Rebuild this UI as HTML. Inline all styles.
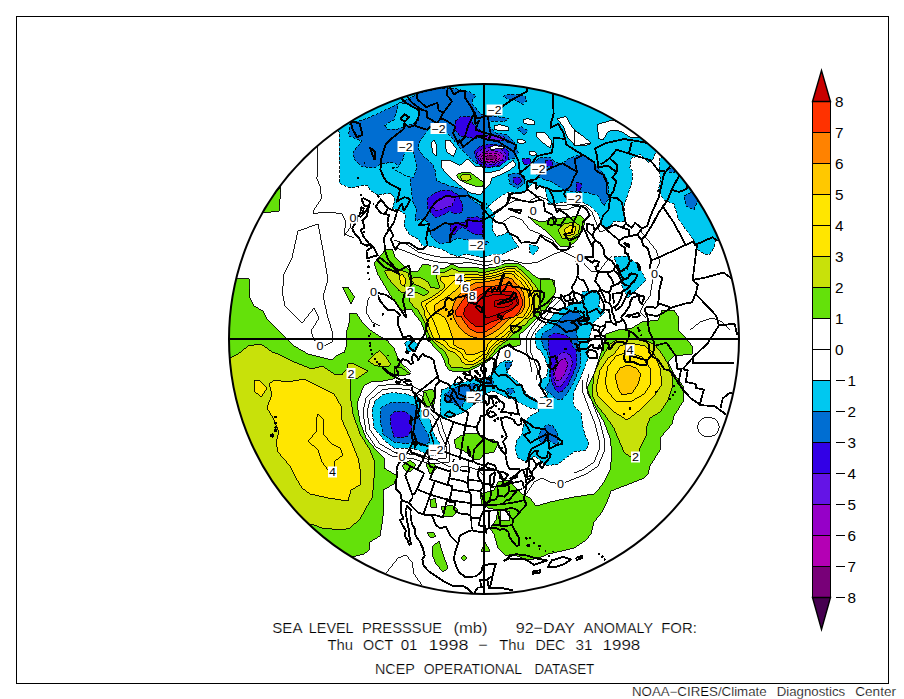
<!DOCTYPE html>
<html lang="en"><head><meta charset="utf-8"><title>SLP anomaly</title>
<style>html,body{margin:0;padding:0;background:#fff}body{width:904px;height:699px;overflow:hidden}</style>
</head><body>
<svg width="904" height="699" viewBox="0 0 904 699" style="display:block">
<defs><clipPath id="cc"><circle cx="484" cy="339" r="255"/></clipPath></defs>
<rect width="904" height="699" fill="#fff"/>
<g clip-path="url(#cc)" shape-rendering="crispEdges">
<path d="M330 125 L339 132 L339 154 L340 170 L339.3 183.3 L350 188 L367 185 L371 191 L378 195 L391 193 L395 199 L392.5 208.6 L399 210 L406 215 L404 226 L410 235 L418 239 L423 246 L431 246 L443 250 L450 254 L458 256.5 L467 254 L476.6 256.5 L483 258 L486 256.5 L494 254 L503 254 L511 250 L518.5 247 L515 242 L511 235 L507 232.5 L502 235 L496.5 236.5 L492.5 230 L492.5 220.6 L495 215 L490 208.6 L487 203 L486.6 208.5 L492 203 L502.5 195 L509 192 L520 194 L526.5 190 L533 183 L538.4 186 L545 188.6 L546.4 195 L548 204 L558 203 L566 202 L582 202 L590 206 L598 214 L602 226 L608 230 L614 221 L624 222 L624 206 L628 194 L632 182 L632 170 L629.8 169 L631 158.5 L640.5 154.5 L648.4 162.5 L652.4 160 L657 150 L680 110 L560 40 L400 40Z" fill="#00c8f0" stroke="#000" stroke-width="0.9" stroke-dasharray="3 1.5"/>
<path d="M557.3 118.6 L566 116.6 L572.6 128 L580.6 134.6 L590 144 L584.6 146 L574 144.5 L567.3 137 L563.3 126.6Z" fill="#ffffff" stroke="#000" stroke-width="0.9"/>
<path d="M597 124.6 L612.5 120 L645 137 L630 137 L622 132 L615 130 L608.5 131 L603 140 L599 138.6Z" fill="#ffffff" stroke="#000" stroke-width="0.9"/>
<path d="M574 130 L584 137 L591 143 L574 146Z" fill="#ffffff" stroke="#000" stroke-width="0.9"/>
<path d="M523 119.5 L528 118.6 L534 121 L535 124 L530 125 L524 123Z" fill="#ffffff" stroke="#000" stroke-width="0.9"/>
<path d="M537 132 L545 133 L552 141 L550.4 148 L542.4 142.5 L536 136Z" fill="#ffffff" stroke="#000" stroke-width="0.9"/>
<path d="M494 126 L500 124.6 L508 127 L509 130 L502 131 L495 129.5Z" fill="#ffffff" stroke="#000" stroke-width="0.9"/>
<path d="M517 139.5 L522 139 L526 142 L522 144 L518 142.5Z" fill="#ffffff" stroke="#000" stroke-width="0.9"/>
<path d="M529 151.5 L534 151 L537 154 L533 156 L529 154Z" fill="#ffffff" stroke="#000" stroke-width="0.9"/>
<path d="M445.3 140 L450.6 141 L456.6 149 L453.3 156.5 L448 153 L445.3 146.5Z" fill="#ffffff" stroke="#000" stroke-width="0.9"/>
<path d="M431 143 L434 140 L437 146 L436 156 L433 153Z" fill="#ffffff" stroke="#000" stroke-width="0.9"/>
<path d="M441 160 L449.3 160 L460 165.3 L468 158.6 L474.6 166 L482.6 166.6 L484 172 L492 172 L500 170 L508 164 L513 160 L516 165 L510 170 L500 175 L492 178 L490 184 L484 190 L480 195 L469.3 192.6 L457.3 183.3 L448 175.3 L441.3 167.3Z" fill="#ffffff" stroke="#000" stroke-width="0.9"/>
<path d="M660 158 L659 169 L660.4 180 L657.8 193 L658 190 L664 200 L674 204 L678 218 L686 230 L694 240 L698 250 L704 254 L710 254 L714 248 L716 240 L760 240 L760 150 L680 150Z" fill="#00c8f0" stroke="#000" stroke-width="0.9" stroke-dasharray="3 1.5"/>
<path d="M684 196 L692 192 L698 200 L694 210 L686 206Z" fill="#006ed2" stroke="#000" stroke-width="0.9" stroke-dasharray="3 1.5"/>
<path d="M668 168 L674 168 L675 172 L669 172Z" fill="#006ed2" stroke="#000" stroke-width="0.9" stroke-dasharray="3 1.5"/>
<path d="M614 257 L626 256 L638 264 L646 280 L636 290 L628 298 L622 286 L618 270Z" fill="#00c8f0" stroke="#000" stroke-width="0.9" stroke-dasharray="3 1.5"/>
<path d="M528.5 244.5 L538 246.5 L538.5 249 L533 255 L530 252.5Z" fill="#00c8f0" stroke="#000" stroke-width="0.9" stroke-dasharray="3 1.5"/>
<path d="M582 292 L592 290 L600 296 L598 308 L588 310 L582 304Z" fill="#00c8f0" stroke="#000" stroke-width="0.9" stroke-dasharray="3 1.5"/>
<path d="M404.5 342 L412 340 L418 344 L414 351 L407 352Z" fill="#00c8f0" stroke="#000" stroke-width="0.9" stroke-dasharray="3 1.5"/>
<path d="M350 122.5 L362 120.5 L380 112.5 L396 105 L420 93 L440 88 L457 89 L470 92 L476 96 L472 100 L473 105 L480 113 L485 117 L493 116 L509 118.6 L505 121 L490 121 L489 126.6 L496 133 L506.5 134.5 L514.5 142.5 L518.5 153 L514.5 158.5 L506 160 L500 166 L486 168 L474 162 L462 150 L452 138 L444 130 L436 124 L428.4 129 L420.5 140 L417.8 148 L423 156 L432.4 164 L435 170 L436.4 180.6 L450 186 L466 190 L470 198 L476.6 203 L482.6 207 L482.6 239 L488.6 242.5 L486 244.5 L482.6 244.5 L470 240.5 L458 238 L450 242 L440.4 244.5 L431 236.5 L429 223 L423 219 L415 220.5 L416.5 210 L412.5 200.6 L410 176.6 L404 170 L392.5 162 L381 164 L374 168 L362 166.5 L354.6 160 L353 152 L362 141 L348.6 136Z" fill="#006ed2" stroke="#000" stroke-width="0.9" stroke-dasharray="3 1.5"/>
<path d="M384.5 125 L394 120 L399 102.6 L410 104 L418 110.6 L418.5 120 L412.5 124 L404.5 126.6 L396.5 129 L387 129Z" fill="#00c8f0" stroke="#000" stroke-width="0.9" stroke-dasharray="3 1.5"/>
<path d="M392 168 L398 167 L403 159 L405 151 L413 151 L417 168 L413 178 L404 175Z" fill="#00c8f0" stroke="#000" stroke-width="0.9" stroke-dasharray="3 1.5"/>
<path d="M502.5 96 L512 94 L525 96 L526.5 101 L522.5 104 L514.5 100 L506.5 98.6Z" fill="#006ed2" stroke="#000" stroke-width="0.9" stroke-dasharray="3 1.5"/>
<path d="M517 129 L521 126.6 L528 130.6 L524 134.5Z" fill="#006ed2" stroke="#000" stroke-width="0.9" stroke-dasharray="3 1.5"/>
<path d="M508 175 L516 173 L525 176 L524 184 L517 188.6 L510 184Z" fill="#006ed2" stroke="#000" stroke-width="0.9" stroke-dasharray="3 1.5"/>
<path d="M513 177 L520 177 L522 182 L517 185 L513 182Z" fill="#3200e6" stroke="#000" stroke-width="0.9" stroke-dasharray="3 1.5"/>
<path d="M540 158 L550 157 L555.3 162.5 L562 164 L568.6 158.5 L580.6 154.5 L590 158.5 L596.5 166.5 L604.5 174.5 L608.5 182.5 L608 200 L604 206 L598 196 L586 192 L576 192 L564 190 L552 182 L540 178 L532 170 L534 162Z" fill="#006ed2" stroke="#000" stroke-width="0.9" stroke-dasharray="3 1.5"/>
<path d="M576 182 L582 184 L580 192 L576 190Z" fill="#3200e6" stroke="#000" stroke-width="0.9" stroke-dasharray="3 1.5"/>
<path d="M522 159 L530 158 L531 164 L524 165Z" fill="#3200e6" stroke="#000" stroke-width="0.9" stroke-dasharray="3 1.5"/>
<path d="M545 160 L552 160 L553 166 L546 166Z" fill="#3200e6" stroke="#000" stroke-width="0.9" stroke-dasharray="3 1.5"/>
<path d="M455.3 121 L461 116.6 L470.6 117 L473 124 L478.6 129 L484 132 L484 137 L474.6 138.5 L466.6 137 L460 136 L454.6 129Z" fill="#3200e6" stroke="#000" stroke-width="0.9" stroke-dasharray="3 1.5"/>
<path d="M427 199 L435 193 L443 190 L452 191 L458 195 L463 204.6 L462 212.6 L454 214 L450 211 L443 215 L435 218 L428 208.6Z" fill="#3200e6" stroke="#000" stroke-width="0.9" stroke-dasharray="3 1.5"/>
<path d="M432.4 206 L439 199 L447 196 L455 198 L452 206 L443 208.6 L436.4 211Z" fill="#6414e6" stroke="#000" stroke-width="0.9" stroke-dasharray="3 1.5"/>
<path d="M467 218 L476.6 216.6 L482.6 219 L482.6 234 L476.6 235 L471 232.5 L463 227 L458 230 L454 235 L450 234 L450 224.6 L456.6 222 L464.6 223Z" fill="#3200e6" stroke="#000" stroke-width="0.9" stroke-dasharray="3 1.5"/>
<path d="M474 151.5 L480 146.5 L490 144 L502 145.5 L509 151.5 L508 159.5 L500 165.5 L488 167.5 L478 163.5Z" fill="#3200e6" stroke="#000" stroke-width="0.9" stroke-dasharray="3 1.5"/>
<path d="M476 153.5 L482 149 L491 147.5 L500 148.5 L506 153.5 L505 159.5 L498 163.5 L488 165 L480 161.5Z" fill="#6414e6" stroke="#000" stroke-width="0.9" stroke-dasharray="3 1.5"/>
<path d="M478.5 155.5 L484 151.5 L492 150.5 L500 152 L503.5 155.5 L502 160 L496 162.5 L487 163 L481 160.5Z" fill="#9600c8" stroke="#000" stroke-width="0.9" stroke-dasharray="3 1.5"/>
<path d="M481 156.5 L486 153.5 L493 153 L499 154.5 L500.5 157.5 L498 160.5 L492 161.5 L485 161Z" fill="#b400b4" stroke="#000" stroke-width="0.9" stroke-dasharray="3 1.5"/>
<path d="M485 156.5 L490 155 L496 156 L497 158.5 L493 160 L487 159.5Z" fill="#780078" stroke="#000" stroke-width="0.9" stroke-dasharray="3 1.5"/>
<path d="M490 146.5 L496 145.5 L503 147 L503.5 149 L497 148.5 L490.5 149.5Z" fill="#ffffff" stroke="#000" stroke-width="0.9"/>
<path d="M485 135.5 L496 135 L504 137 L509 142.5 L504 141 L496 140 L485 139.5Z" fill="#6414e6" stroke="#000" stroke-width="0.9" stroke-dasharray="3 1.5"/>
<path d="M375 401 L383 394.5 L392.5 392.5 L406 394 L418 398 L422 412 L430 420 L434 434 L440 444 L442 454 L430 456 L418 450 L410 448 L394 448 L384 440 L374 428 L372 410Z" fill="#00c8f0" stroke="#000" stroke-width="0.9" stroke-dasharray="3 1.5"/>
<path d="M381 408 L383 406.5 L390 403 L399 402 L406 402 L416 406 L420 420 L428 434 L430 442 L422 446 L414 442 L406 444 L394 442 L383 434 L380 420Z" fill="#006ed2" stroke="#000" stroke-width="0.9" stroke-dasharray="3 1.5"/>
<path d="M390 416 L394 412 L404 411 L411 416 L412 428 L408 436 L400 438 L394 437 L391 426Z" fill="#3200e6" stroke="#000" stroke-width="0.9" stroke-dasharray="3 1.5"/>
<path d="M441 390 L446.6 388.6 L454.6 383 L464 382 L473 379 L482.5 378.6 L485 379 L492 374 L500 363 L505 360.6 L513 360.6 L510.5 367 L506.5 372.6 L513 378 L521 384.6 L526.5 394 L537 400.5 L540 403 L540 410 L530 408 L521 403.6 L516 400.5 L508 398 L500 394 L492 391 L485 394 L482.5 402 L476 403 L469 408.5 L464 412.5 L456 415 L446.6 418 L442.6 419 L440 414 L440 403 L441 395Z" fill="#00c8f0" stroke="#000" stroke-width="0.9" stroke-dasharray="3 1.5"/>
<path d="M444 395 L449 391 L457 387 L465 386 L473 383 L478.5 384.6 L473 390 L466.5 394 L464 400.5 L462.5 406 L458.5 407 L453 403 L446.6 402Z" fill="#006ed2" stroke="#000" stroke-width="0.9" stroke-dasharray="3 1.5"/>
<path d="M505 363 L512 362 L510.5 367 L506.5 371Z" fill="#006ed2" stroke="#000" stroke-width="0.9" stroke-dasharray="3 1.5"/>
<path d="M506.5 388.6 L513 388 L514.5 392.6 L509 394.6Z" fill="#006ed2" stroke="#000" stroke-width="0.9" stroke-dasharray="3 1.5"/>
<path d="M486 380 L492 378 L494 384 L488 387Z" fill="#006ed2" stroke="#000" stroke-width="0.9" stroke-dasharray="3 1.5"/>
<path d="M552 316 L560 310.6 L566.6 306.6 L576 302.6 L584 300 L584.5 297.3 L589 292.6 L597 292 L600 298.6 L598.5 306.6 L605 312 L600 317 L593 322.6 L590.5 333 L589 338.5 L588 345 L588 358 L585 367 L581 376.6 L577 384.6 L574 392.6 L573 403 L576 408.5 L581 412.5 L582.5 424.5 L585 435 L589 443 L586 450 L574 452 L566 458 L558 464 L546 466 L542 462 L534 456 L526 462 L518 458 L515 450 L517 440 L522 434 L524 422 L530 416 L538 412 L538.5 408.5 L540 398 L548 395 L545 390 L538.5 386 L540 380.6 L546.5 376.6 L548 368.6 L545 358 L540 350 L537.3 349 L534.6 340 L536 333 L540 329 L546.6 324Z" fill="#00c8f0" stroke="#000" stroke-width="0.9" stroke-dasharray="3 1.5"/>
<path d="M556 324 L560 318.6 L566.6 313 L573 310.6 L578.5 312 L581 316 L582.5 320 L580 326.6 L576 330.5 L577 336 L578.5 344 L580 350 L581 358 L580 367 L576 376.6 L572 386 L566.5 394 L562.5 399 L556 399 L550.5 394 L545 388.6 L549 383 L549 376.6 L550 367 L549 358 L546.5 350 L544 349 L541.3 340 L542.6 333 L550.6 329Z" fill="#006ed2" stroke="#000" stroke-width="0.9" stroke-dasharray="3 1.5"/>
<path d="M548.6 336 L554.6 333 L564 334.5 L570.5 338.5 L573 346.5 L576 350 L577 358 L576 366 L572.5 375 L568 384.6 L562.5 391 L558.5 392.6 L554.5 388.6 L552 382 L550.5 374 L551 363 L550 355 L549 350 L548 346.5Z" fill="#3200e6" stroke="#000" stroke-width="0.9" stroke-dasharray="3 1.5"/>
<path d="M558.5 354 L564 352 L570.5 355 L572.5 363 L570.5 371 L566.5 379 L561 386 L557 387 L554.5 382 L553 374 L554.5 366 L557 359Z" fill="#6414e6" stroke="#000" stroke-width="0.9" stroke-dasharray="3 1.5"/>
<path d="M560 360.6 L565 358 L568 364.6 L565 372.6 L560 380.6 L556 380.6 L554.5 374 L557 366Z" fill="#9600c8" stroke="#000" stroke-width="0.9" stroke-dasharray="3 1.5"/>
<path d="M541 430 L546.5 424.5 L553 426 L557 432.5 L558.5 443 L554 444 L548 440 L542 444 L538 438Z" fill="#006ed2" stroke="#000" stroke-width="0.9" stroke-dasharray="3 1.5"/>
<path d="M215 278 L249 279 L250 298 L254 306 L263 311 L267 319 L280 332 L286 338 L294 346 L308 354 L320 357 L332 360 L338 354.6 L344.6 352 L346 346.6 L346.6 332 L349 323 L350 313 L357 314 L360.6 320 L368.6 329 L380.5 337 L388.5 342 L394 348 L398 358.6 L404.5 366.6 L411 373 L399 374.5 L395 378.5 L383 381 L371 382 L364.6 385 L362 390 L357 404 L360 422 L366 438 L376 450 L384 458 L384 468 L394 474 L397 476 L394 484 L383 490 L384 508 L382 524 L380 536 L370 542 L369 550 L364 554 L352 557 L340 575 L215 575Z" fill="#64e10a" stroke="#000" stroke-width="0.9"/>
<path d="M262 213 L279 211 L281 186 L270 200Z" fill="#64e10a" stroke="#000" stroke-width="0.9"/>
<path d="M342.6 287 L348 287 L354.6 297 L351 304Z" fill="#64e10a" stroke="#000" stroke-width="0.9"/>
<path d="M215 362 L232 357 L238 354 L248 346 L261 344 L272 352 L278 354 L294 362 L312 369 L322 366 L334 374 L342 374.5 L347 369 L348 364 L352 363 L368 371 L358 378 L351 379 L350 394 L353 414 L360 434 L370 450 L374 460 L374 478 L373 490 L372 498 L366 508 L360 519 L350 528 L342 530 L322 528 L311 524 L295 540 L215 540Z" fill="#c8e10a" stroke="#000" stroke-width="0.9"/>
<path d="M368 361 L374 354.6 L380 350.6 L386 357 L390.5 364 L388.5 366.6 L382 367 L374 365Z" fill="#c8e10a" stroke="#000" stroke-width="0.9"/>
<path d="M269 384 L274 380 L288 382 L304 379 L318 386 L334 394 L341 406 L342 420 L350 438 L358 458 L361 474 L360 485 L351 490 L348 501 L328 498 L310 494 L302 488 L296 478 L290 466 L278 452 L276 442 L279 432 L273 418 L267 408 L272 394Z" fill="#ffe600" stroke="#000" stroke-width="0.9"/>
<path d="M254 380 L260 381 L267 388 L261 397 L254 391Z" fill="#ffe600" stroke="#000" stroke-width="0.9"/>
<path d="M386 249 L392.5 249 L395 257 L402 264 L410 270.6 L415 272 L418 271 L422 265 L428 264.5 L434 267 L440 268 L445 268 L452 264 L458 267 L465 268 L474 267 L483 269 L488 268 L495 267.5 L506 263 L518 263 L525 268 L532 274 L539 279 L547 278 L555 281 L554 287 L549 292 L545 296 L544 302 L543 308 L541 314 L537 318 L531 324 L525 330 L519 335 L521 340 L520 345 L513 347 L510 347 L505 345 L500 349 L495 354 L490 360 L485 363 L482 364 L475 368 L469 371 L461 371 L455 372 L449 370 L446 366 L444 360 L441 354 L435 348 L430 342 L427 338 L425 332 L423 327 L421 322 L416 316 L412 310 L408.5 309 L400.5 310.5 L394 301 L386 288 L378 274.6 L374 263Z" fill="#64e10a" stroke="#000" stroke-width="0.9"/>
<path d="M384.5 270.6 L392.5 270 L400.5 270.6 L408 273 L410 280 L410 286 L407 290.5 L403 293 L399 290.5 L394 285 L388.5 278.6Z" fill="#c8e10a" stroke="#000" stroke-width="0.9"/>
<path d="M399 276 L402.5 274 L406 280 L404.5 286.5 L401 284Z" fill="#ffe600" stroke="#000" stroke-width="0.9"/>
<path d="M410 302 L409 296 L413 292 L418 293 L424 296 L429 292 L423 288 L414 284 L411 279 L415 277 L421 278 L428 282 L431 287.5 L438 288.5 L440 287 L438 282 L436 276 L439 273 L445 272 L452 268.5 L458 271 L465 272 L474 271 L482 273 L488 271.5 L495 270 L507 266.5 L517 267 L523 272 L529 278 L535 285 L539 291 L539.5 298 L539 305 L537 311 L534 316 L529 320 L525 325 L522 326 L517 331 L511 336 L508 340 L503 343 L497 348 L492 354 L487 360 L483 362 L477 365 L470 368 L463 368 L457 367 L452 368 L449 364 L448 358 L445 352 L438 346 L432 340 L429 335 L426.5 329 L425 323 L422 317 L418 310 L415 308Z" fill="#c8e10a" stroke="#000" stroke-width="0.9"/>
<path d="M421.5 305 L422 302 L430 298 L438 293 L445 287 L444 284 L440 280 L441 277 L449 276 L457 275.5 L465 275 L474 274.5 L483 275.5 L495 272.5 L507 268.5 L515 269 L521 274 L527 280 L532 287 L534.5 294 L535 301 L534 308 L532 313 L528 318 L524 319 L519 324 L514 329 L509 334 L505 340 L500 342 L494 347 L489 353 L486 358 L483 358.5 L478 362 L473 364.5 L467 365 L462 362 L460 358 L455 353 L448 350 L443 345 L436 341 L433 337 L430 330 L428 323 L425 316 L424 310Z" fill="#ffe600" stroke="#000" stroke-width="0.9"/>
<path d="M434 309 L435 305 L440 301 L447 297 L452 293 L457 289 L462 283 L467 280.5 L474 279.5 L483 279.5 L495 277.5 L507 273 L514 274.5 L519 280 L524 286 L528 293 L529.5 300 L529 307 L526 313 L522 318 L518 317 L513 322 L508 327 L503 332 L497 336.5 L492 340 L488 344 L486 350 L483 351 L475 354 L469 355 L466 354 L464 350 L459 348 L454 345 L453 340 L452 336 L450 330 L448 324 L445 318 L441 315 L436 313Z" fill="#ffc800" stroke="#000" stroke-width="0.9"/>
<path d="M452 308 L455 301 L457 297 L461 293 L465.5 288 L469 286 L475 283 L483 282.5 L495 280 L507 277.5 L513 279.5 L518 285 L523 292 L525 300 L524.5 307 L522 312 L518 315 L513 316 L508 320 L503 325 L498 329.5 L492 333.5 L486 336.5 L483 338 L477 338 L471 336.5 L465 333 L459 327 L455 320 L452 313Z" fill="#ff8200" stroke="#000" stroke-width="0.9"/>
<path d="M455 312 L458 307 L462 301 L467 295 L471 291 L477 288 L485 286 L495 286 L507 284.5 L514 287 L519 292 L522 299 L522 306 L519 312 L514 317 L508 318 L502 320 L496 325 L490 329 L486 331.5 L483 333 L477 332.5 L470 329 L465 323 L461 316 L457 317Z" fill="#ff3200" stroke="#000" stroke-width="0.9"/>
<path d="M463.5 314 L465 308 L469 303 L475 300 L480 295 L486 291.5 L495 291.5 L505 291 L512 292 L517 296 L519 301 L518 305 L515 306.4 L512 309.8 L505 313.8 L502 318 L495 320.6 L489 323 L485 325 L481 327 L475 326 L469 321 L465 317Z" fill="#c80000" stroke="#000" stroke-width="0.9"/>
<path d="M602 350 L598 362 L594 374 L587 388 L588 394 L596 408 L604 422 L610 438 L612 454 L610 470 L604 482 L598 490 L594 494 L574 497 L564 499 L550 502 L536 506 L530 498 L522 494 L514 486 L508 480 L498 482 L494 490 L480 494 L482 504 L488 508 L498 510 L496 520 L490 528 L494 534 L498 548 L506 556 L512 554 L522 558 L530 560 L544 556 L548 554 L562 551 L574 548 L586 540 L591 534 L594 522 L602 512 L607 502 L611 491 L624 486 L644 478 L648 474 L650 466 L660 450 L660 438 L672 424 L674 416 L684 400 L683 386 L674 374 L668 362 L674 356 L692 354 L692 346 L686 338 L678 330 L679 318 L674 310 L662 310 L658 320 L642 322 L632 328 L618 330 L606 334 L604 342Z" fill="#64e10a" stroke="#000" stroke-width="0.9"/>
<path d="M604 354 L600 360 L594 374 L592 394 L596 404 L604 414 L614 428 L618 438 L624 452 L630 457 L638 456 L640 448 L647 434 L646 428 L650 418 L660 412 L668 400 L672 388 L672 376 L668 364 L662 354 L655 345 L640 338 L620 338 L610 344Z" fill="#c8e10a" stroke="#000" stroke-width="0.9"/>
<path d="M614 354 L608 358 L600 370 L596 388 L598 396 L604 402 L614 412 L627 420 L640 410 L654 396 L662 384 L660 368 L654 354 L645 346 L630 343 L620 346Z" fill="#ffe600" stroke="#000" stroke-width="0.9"/>
<path d="M615 376 L620 368 L628 365 L636 368 L641 374 L638 384 L632 393 L622 395 L618 388Z" fill="#ffc800" stroke="#000" stroke-width="0.9"/>
<path d="M528 216.6 L540 222 L548 220.6 L550 219 L562 218 L572 217 L580 215 L585 220 L583 230 L577 240 L570 246 L560 246 L551 236 L543 228.6 L535 223Z" fill="#64e10a" stroke="#000" stroke-width="0.9"/>
<path d="M558 230 L564 224 L574 222 L580 226 L578 234 L570 239 L562 238Z" fill="#c8e10a" stroke="#000" stroke-width="0.9"/>
<path d="M564 230 L570 225 L576 227 L574 234 L567 236Z" fill="#ffe600" stroke="#000" stroke-width="0.9"/>
<path d="M456.6 174.6 L463.3 172 L470.6 172.6 L478.6 178.6 L484 182.6 L482.6 186 L474.6 186 L465.3 182.6 L458.6 179.3Z" fill="#64e10a" stroke="#000" stroke-width="0.9"/>
<path d="M460 176.6 L464 174 L470 174.6 L471.3 178.6 L466.6 181.3 L462 180Z" fill="#c8e10a" stroke="#000" stroke-width="0.9"/>
<path d="M424 391 L432 389 L436 394 L434 404 L426 408 L422 402Z" fill="#64e10a" stroke="#000" stroke-width="0.9"/>
<path d="M454 440 L460 436 L468 433 L478 434 L482 438 L494 440 L498 444 L494 452 L484 454 L480 459 L474 460 L468 454 L462 450 L456 448Z" fill="#64e10a" stroke="#000" stroke-width="0.9"/>
<path d="M402 466 L410 460 L416 465 L410 472 L406 471Z" fill="#64e10a" stroke="#000" stroke-width="0.9"/>
<path d="M426 464 L434 463 L437 468 L430 474Z" fill="#64e10a" stroke="#000" stroke-width="0.9"/>
<path d="M394 366 L402 368 L410 374 L402 376 L394 374Z" fill="#64e10a" stroke="#000" stroke-width="0.9"/>
<path d="M430 500 L435 498 L437 507 L431 507Z" fill="#64e10a" stroke="#000" stroke-width="0.9"/>
<path d="M441 507 L452 505 L458 510 L452 517 L444 516Z" fill="#64e10a" stroke="#000" stroke-width="0.9"/>
<path d="M427 533 L433 532 L436 536 L431 538Z" fill="#64e10a" stroke="#000" stroke-width="0.9"/>
<path d="M433 546 L439 541 L443 554 L448 568 L443 572 L436 564 L432 554Z" fill="#64e10a" stroke="#000" stroke-width="0.9"/>
<path d="M464 554.6 L467 557.6 L464 560.6 L461 557.6Z" fill="#64e10a" stroke="#000" stroke-width="0.9"/>
<path d="M485 542 L490 551 L481 551.6Z" fill="#64e10a" stroke="#000" stroke-width="0.9"/>
<path d="M500 510 L510 512 L509 521 L501 520Z" fill="#ffffff" stroke="#000" stroke-width="0.9"/>
<path d="M540 280 L552 279 L556 290 L552 300 L546 310 L540 310Z" fill="#64e10a" stroke="#000" stroke-width="0.9"/>
<path d="M318 414 L324 420 L323 434 L332 444 L340 448 L343 455 L335 461 L334 469 L328 470 L322 462 L318 450 L308 441 L316 432 L316 420Z" fill="none" stroke="#000" stroke-width="0.9"/>
<path d="M426.5 303 L432 300 L440 295 L447 288 L453 282 L456 279.5 L465 277.5 L474 277 L483 277.5 L495 275.5 L507 271 L514.5 271.5 L520 277 L525.5 283 L530 290 L532 297 L532 304 L531 310 L527 316 L522 321 L516 325 L511 330 L506 334 L501 338 L496 342 L490 348 L487 354 L483 354 L478 358 L473 361 L468 361 L464 358 L462 354 L457 350 L450 347 L446 342 L440 338 L437 330 L434 322 L431 316 L428 312 L425.5 306Z" fill="none" stroke="#000" stroke-width="0.9"/>
<path d="M605 382 L608 366 L616 356 L628 352 L642 357 L650 368 L651 384 L644 394 L630 402 L616 401 L608 392Z" fill="none" stroke="#000" stroke-width="0.9"/>
<path d="M298 231 L318 224 L323 250 L328 280 L323 296 L328 318 L333 334 L332 342 L324 346 L314 340 L311 331 L319 318 L314 308 L302 323 L285 306 L282.6 294 L283.6 275 L292 258Z" fill="none" stroke="#000" stroke-width="0.9"/>
<path d="M317.4 145 L318 174 L316.6 178 L320 186 L321.6 198 L314 210 L313 214 L318 213 L330 212 L342 214 L346 222 L344 234 L354 238" fill="none" stroke="#000" stroke-width="0.9"/>
<path d="M589 374 L586 386 L593 404 L600 422 L604 438 L604 452 L598 466 L586 474 L574 479 L566 482 L560 484 L550 482 L542 478 L534 482 L530 488 L526 494" fill="none" stroke="#000" stroke-width="0.9"/>
<path d="M583 380 L582 390 L588 406 L595 424 L599 440 L599 450 L594 462 L584 469 L574 473" fill="none" stroke="#000" stroke-width="0.9"/>
<path d="M394 240 L406 244 L418 252 L434 256 L446 258 L460 257 L474 260 L484 262 L498 260 L514 261 L526 264 L538 262 L554 254 L566 250 L574 246" fill="none" stroke="#000" stroke-width="0.9"/>
<path d="M394 247 L410 253 L424 259 L440 262.5 L456 263.5 L470 262.5 L484 265.5 L498 264 L510 259" fill="none" stroke="#000" stroke-width="0.9"/>
<path d="M370 400 L382 390 L394 388 L410 390 L422 396 L428 410 L436 420 L440 434 L446 446 L446 458 L430 460 L416 455 L394 452 L380 444 L370 430 L367 412Z" fill="none" stroke="#000" stroke-width="0.9"/>
<path d="M366 398 L378 386 L394 384 L412 386 L426 393 L432 408 L440 418 L444 432 L450 446 L449 462 L430 464 L414 459 L392 456 L376 447 L366 432 L363 412Z" fill="none" stroke="#000" stroke-width="0.9"/>
<path d="M394 452 L402 456 L412 452 L424 456 L436 460 L448 466 L456 468 L466 466 L478 470 L484 476" fill="none" stroke="#000" stroke-width="0.9"/>
<path d="M386 573 L398 558 L406 555 L412 562 L414 574 L422 585" fill="none" stroke="#000" stroke-width="0.9"/>
<path d="M719.3 427 L717.826 432 L713.8 435.66 L708.3 437 L702.8 435.66 L698.774 432 L697.3 427 L698.774 422 L702.8 418.34 L708.3 417 L713.8 418.34 L717.826 422Z" fill="none" stroke="#000" stroke-width="0.9"/>
<path d="M560 300 L552 308 L546 316 L540 324 L534 332 L530 340 L530 350 L534 360 L538 370 L536 380" fill="none" stroke="#000" stroke-width="0.9"/>
<path d="M556 298 L548 306 L542 314 L536 322 L530 330 L526 338 L526 350 L530 362 L532 372" fill="none" stroke="#000" stroke-width="0.9"/>
<path d="M494 212 L504 206 L516 200 L528 202 L538 196 L548 200 L556 208 L566 210 L576 206" fill="none" stroke="#000" stroke-width="0.9"/>
<path d="M500 224 L512 216 L522 220 L530 230 L540 234 L552 240 L560 250 L572 256 L584 262" fill="none" stroke="#000" stroke-width="0.9"/>
<path d="M548 204 L560 206 L574 204 L586 206 L592 212 L596 222 L600 232 L610 228" fill="none" stroke="#000" stroke-width="0.9"/>
<path d="M580 258 L586 266 L592 272 L600 270 L606 262 L612 256" fill="none" stroke="#000" stroke-width="0.9"/>
<path d="M654 274 L652 284 L650 296 L644 304 L640 312 L646 318" fill="none" stroke="#000" stroke-width="0.9"/>
<path d="M640 230 L648 240 L656 250 L660 262 L654 274" fill="none" stroke="#000" stroke-width="0.9"/>
<path d="M690 330 L700 322 L712 318 L722 322 L730 330" fill="none" stroke="#000" stroke-width="0.9"/>
<path d="M352 217 L350 228 L344 236" fill="none" stroke="#000" stroke-width="0.9"/>
<path d="M373 291 L368 300 L366 312 L372 322 L380 326" fill="none" stroke="#000" stroke-width="0.9"/>
<path d="M485 297 L492 295 L502 294.5 L511 296 L516 299 L517.5 303 L515 307 L509 310 L501 313 L493 316 L486 318 L484 312 L484 303Z" fill="none" stroke="#000" stroke-width="0.9"/>
<path d="M495 301 L503 299 L511 300 L513 303 L509 306 L500 308 L494 306Z" fill="none" stroke="#000" stroke-width="0.9"/>
<path d="M473.7 594.3 L467.4 588.5 L462.4 585.8 L453.6 586.3 L445.5 582.4 L435.8 576.1 L428.3 570.9 L423.4 565.1 L422.4 559.5 L424.7 555.7 L422.6 547.7 L419.2 540.7 L415.5 535.6 L414.8 529 L412 523.7 L411.2 520.1 L410.5 514.8 L410.6 509.4 L407.1 506.2 L405.5 510.5 L406.5 517.3 L407.2 521.8 L408.8 528.9 L409.3 535.5 L409.9 539.2 L411.2 544.5 L409.2 544.6 L408 541.1 L404.6 535.4 L405.8 530.7 L402.9 525.5 L400 519.9 L403.5 518.9 L401.1 512.7 L401.3 508.5 L401 504.1 L401.7 499.8 L400.9 495.2 L400 493.1 L395.7 488.9 L396.1 484.1 L396.3 479.9 L397.1 475.3 L396.5 470.2 L397.9 464.8 L401.2 460.4 L405.5 455 L409.8 449 L412.6 442.1 L415.2 445 L414.7 447.8 L416.6 444.3 L416.8 441.7 L415.5 437.6 L413.3 432.8 L413.6 429.8 L414.4 425.6 L415.1 419.9 L415.7 415.4 L416.3 410.4 L417.5 405.5 L415.9 402.9 L415.3 397.1 L414.8 394 L412 390.3 L412.6 386.3 L410.9 384.2 L408.6 385.2 L406.1 383.4 L403.8 381.8 L407.7 380.6 L410.6 381.4 L408.2 379.6 L404.2 379.3 L401.5 380.1 L397.1 378 L392.8 375.9 L388.4 373.2 L384.8 370.3 L383.1 367.9 L385.5 369.5 L388.7 372.2 L393 374.7 L397.5 375 L398.3 372.8 L396.8 370.7 L396.1 367.6 L398.8 365 L400.1 361.5 L403 359.2 L406.4 360.1 L408.7 361.7 L410.4 364 L413 363 L412.4 360.2 L411.8 357 L414.2 353.8 L417.3 357.5 L417.9 360.5 L419.6 357.8 L422.5 353.8 L425.2 355.9 L429.7 357.2 L434.1 360.5 L434.5 364.2 L435.1 368.4 L436.6 372.2 L437.9 376.4 L438.9 380.3 L442.5 381.9 L446.8 383.3 L449.1 384.5 L450 388.4 L453.3 389.1 L456.2 393.5 L456.9 397.1 L460.8 399.4 L464.5 399.2 L468.3 401.8 L471.8 402 L475 403.1 L477.5 401.3 L479.3 398.2 L479.5 392.9 L480.1 391.4 L482 396.6 L483.5 399.6 L485.6 401.6 L487.2 405.2 L489 402.9 L488.9 398.2 L492 397.2 L492.7 401 L494 405.4 L491.5 407.8 L488.9 408.4 L487.4 410.6 L486.6 414.2 L484 415.2 L480.6 416 L480.1 419.7 L477.7 424.1 L476.6 427.1 L477.3 430.9 L479.5 435.1 L482.3 436.4 L488.2 439.8 L493 441.7 L497.5 441.5 L499 446.8 L501.7 450.6 L504.1 453.1 L506.2 453.1 L505.9 448.8 L504.1 444.3 L502.9 442 L506.9 436.6 L504.8 431.3 L502.8 427.6 L501.9 423.1 L501.1 418.2 L506.3 416.9 L511.5 418.8 L513.7 419.7 L515.4 423.3 L519 425.6 L521.5 423.2 L521.3 418.2 L525.1 420.8 L529.5 423.8 L532.9 427.2 L538.7 428.3 L544.9 429.2 L548 432.9 L546.9 435.9 L543.7 442.5 L537.3 445.9 L531.6 448.6 L529.2 453.8 L528 458.5 L526.4 462.2 L527.7 460.4 L530.2 455.2 L534.9 450.7 L537.8 450.8 L536.7 454.2 L538.7 456.2 L542.2 458.2 L546.9 457.3 L548 452.1 L550.7 454.5 L549.8 457.7 L545.6 462.5 L542.3 468.2 L539.8 465.6 L542 461.7 L537.1 464.2 L535.3 467.9 L531.8 471.8 L531.8 476.1 L534.5 477.7 L532.9 479.4 L529 481.8 L525.8 484.9 L525.9 489.2 L524.7 491.8 L524.7 495.1 L523.8 498.6 L526.5 504.7 L523.9 507.6 L520.8 510.6 L517.3 515.1 L512.9 519.6 L512.3 525.9 L516.1 532.7 L519.3 538.9 L518.9 545.1 L516.4 545.9 L512.4 541.2 L509.3 536.5 L508.4 531.9 L503.9 528.5 L499.7 530 L495.5 527.6 L490.6 528.3 L485.7 528.8 L486.4 532.6 L480.6 532.2 L472.3 530.3 L467.8 531.5 L459.8 535.8 L458.2 543.6 L455.3 551.4 L453.9 558.7 L456.1 566.2 L459.1 572.2 L465.3 577.1 L475.7 576.4 L481.2 572.2 L482.8 565.8 L491.8 563.6 L495.8 563.8 L494.1 569.8 L492.3 576.4 L491.2 583.1 L489.2 588.1 L501.4 588 L513.5 590.5" fill="none" stroke="#000" stroke-width="1.9" stroke-linejoin="round"/>
<path d="M503.8 561.1 L510.6 555.8 L516.2 554.2 L526.1 555.4 L534.5 557.9 L546.7 560.5 L534.1 565 L530.3 562.3 L524.9 559.5 L516.9 559.1 L509 558.5 L503.8 561.1" fill="none" stroke="#000" stroke-width="1.9" stroke-linejoin="round"/>
<path d="M551.7 560.4 L563.3 556.9 L571.3 559.5 L563.7 564.2 L553.8 567.4 L547.8 567.4 L551.7 560.4" fill="none" stroke="#000" stroke-width="1.9" stroke-linejoin="round"/>
<path d="M532.2 571.6 L540.4 570.2 L540.1 572.6 L533 573.7 L532.2 571.6" fill="none" stroke="#000" stroke-width="1.9" stroke-linejoin="round"/>
<path d="M576.1 558 L581.9 555.9 L581.9 557.9 L576.9 560 L576.1 558" fill="none" stroke="#000" stroke-width="1.9" stroke-linejoin="round"/>
<path d="M549.1 433.7 L556.4 436.9 L561.8 441.1 L561.9 444.3 L556.7 444.8 L549.5 448.9 L548.5 442.2 L547.6 437 L549.1 433.7" fill="none" stroke="#000" stroke-width="1.9" stroke-linejoin="round"/>
<path d="M414.8 443.5 L412.2 438.1 L411.2 431.2 L414 434.6 L415.6 440.5 L414.8 443.5" fill="none" stroke="#000" stroke-width="1.9" stroke-linejoin="round"/>
<path d="M409.5 424.4 L411.1 417.2 L412.7 419.1 L409.5 424.4" fill="none" stroke="#000" stroke-width="1.9" stroke-linejoin="round"/>
<path d="M395.8 381.1 L399.7 382 L398.9 383.9 L396 382.3 L395.8 381.1" fill="none" stroke="#000" stroke-width="1.9" stroke-linejoin="round"/>
<path d="M499.7 349.2 L504.1 347.1 L509.4 344.4 L514.1 349.1 L520.8 352 L526.2 354.4 L529.6 357.9 L536.6 360.2 L538.5 363.3 L540.4 367.7 L538.7 372.5 L541.1 379.7 L540 386 L543.3 391.5 L546.6 397 L548 400.4 L541.5 402.9 L535.7 401 L530 397.8 L524.6 394.3 L522.6 388.4 L521.4 385.1 L516.9 385.2 L513.6 382.1 L510.4 378.9 L505.9 374.8 L502.1 374.6 L498.6 376.2 L495.8 373.2 L494 370.7 L496.3 366.7 L495.8 362.1 L496.9 357.4 L498.3 353.3 L499.7 349.2" fill="none" stroke="#000" stroke-width="1.9" stroke-linejoin="round"/>
<path d="M547.7 365.4 L550.9 364.7 L550 357.9 L555.1 356.2 L557.7 363.7 L554.7 368.3 L550.8 368.8 L547.7 365.4" fill="none" stroke="#000" stroke-width="1.9" stroke-linejoin="round"/>
<path d="M492.2 385.5 L495.7 386 L498.4 389.2 L505.2 391.6 L508.5 396.7 L515.5 398.3 L516.6 404.5 L517.7 409.7 L517.5 414.2 L510.1 412.8 L500.8 411.8 L503.7 407.9 L503.6 403.2 L499.3 400.4 L496.1 395.9 L489 396.4 L484.9 392.7 L485.6 386.2 L492.2 385.5" fill="none" stroke="#000" stroke-width="1.9" stroke-linejoin="round"/>
<path d="M484.7 378.1 L490.9 378 L492.6 371.1 L493.9 366.1 L494.8 359.4 L490.9 358 L485.9 360.5 L483.1 365 L486.1 369.2 L485.2 373.7 L484.7 378.1" fill="none" stroke="#000" stroke-width="1.9" stroke-linejoin="round"/>
<path d="M491.3 380.3 L491 383.1 L483.2 383.6 L480.5 379.4 L484 377.8 L491.3 380.3" fill="none" stroke="#000" stroke-width="1.9" stroke-linejoin="round"/>
<path d="M458.8 386.5 L458.5 393.6 L468 398.7 L472.8 396.7 L471 391.1 L469.6 386.2 L463.7 384.6 L458.8 386.5" fill="none" stroke="#000" stroke-width="1.9" stroke-linejoin="round"/>
<path d="M458.6 376.7 L454.9 380.6 L454.4 384.6 L458.3 384.5 L462.9 380.3 L458.6 376.7" fill="none" stroke="#000" stroke-width="1.9" stroke-linejoin="round"/>
<path d="M466 374.3 L465 378 L470.4 380.9 L472.8 377.9 L470.8 375.2 L466 374.3" fill="none" stroke="#000" stroke-width="1.9" stroke-linejoin="round"/>
<path d="M480 385.2 L478.7 389.5 L480.4 391.1 L483.6 388.3 L482.8 385.4 L480 385.2" fill="none" stroke="#000" stroke-width="1.9" stroke-linejoin="round"/>
<path d="M475 385.1 L473.1 390.1 L475.6 392.1 L478 389.4 L477.5 385.5 L475 385.1" fill="none" stroke="#000" stroke-width="1.9" stroke-linejoin="round"/>
<path d="M475.3 397.1 L473.8 399.9 L476.9 401.2 L478.2 399 L475.3 397.1" fill="none" stroke="#000" stroke-width="1.9" stroke-linejoin="round"/>
<path d="M489.7 411.3 L488 415.1 L490.2 417.4 L496.1 415.1 L493.6 412.1 L489.7 411.3" fill="none" stroke="#000" stroke-width="1.9" stroke-linejoin="round"/>
<path d="M482.2 364.9 L480.8 369.2 L482.8 372.8 L485.3 369.9 L484.5 366.4 L482.2 364.9" fill="none" stroke="#000" stroke-width="1.9" stroke-linejoin="round"/>
<path d="M479.2 469.6 L485.1 466.3 L487.9 463 L495.1 465.5 L496.6 470.1 L489.7 470.2 L479.2 469.6" fill="none" stroke="#000" stroke-width="1.9" stroke-linejoin="round"/>
<path d="M495.6 471.8 L490 475.6 L489.5 482.4 L490.7 486.8 L493.6 482.9 L494.5 476 L495.6 471.8" fill="none" stroke="#000" stroke-width="1.9" stroke-linejoin="round"/>
<path d="M497.9 471.6 L504 472.5 L508 474.9 L504.4 480.3 L500.3 478.1 L499.6 473.8 L497.9 471.6" fill="none" stroke="#000" stroke-width="1.9" stroke-linejoin="round"/>
<path d="M501 486 L511.5 480.5 L509.9 482.9 L504.7 486.2 L501 486" fill="none" stroke="#000" stroke-width="1.9" stroke-linejoin="round"/>
<path d="M509.5 479.2 L516.5 474.5 L517.6 476.7 L512.5 478.9 L509.5 479.2" fill="none" stroke="#000" stroke-width="1.9" stroke-linejoin="round"/>
<path d="M467.5 445.6 L469.6 451.7 L470 456.6 L468 453.1 L467.5 445.6" fill="none" stroke="#000" stroke-width="1.9" stroke-linejoin="round"/>
<path d="M448.9 411 L444.6 414.7 L450 417.3 L455.5 415.2 L448.9 411" fill="none" stroke="#000" stroke-width="1.9" stroke-linejoin="round"/>
<path d="M445.6 394.8 L445.2 399.9 L448 402.7 L451.5 400.1 L449.9 396.8 L445.6 394.8" fill="none" stroke="#000" stroke-width="1.9" stroke-linejoin="round"/>
<path d="M725.8 414.3 L714.2 405.9 L700.9 405.3 L690.8 398.3 L683.6 390.6 L677.6 381.9 L670.3 370.8 L664.4 369.2 L658.2 359.8 L652 356.4 L654.5 347.9 L653.9 342 L649 330.4 L647.4 316.6 L645.1 311.2 L645.5 307.6 L650.8 306.6 L655.6 308.1 L658.1 305.2 L658.8 298 L659.1 291.4 L662.3 277.6 L651.4 273.1 L650 266.8 L651.2 260.3 L647.6 248.3 L643.2 245.2 L641.2 239.6 L637.5 234.7 L630.6 236 L624.6 237.2 L619.4 240.6 L619.4 244.2 L624.7 247.6 L624.9 252.7 L627.9 254.2 L629.9 261.4 L628.6 264.4 L626.4 268 L623.2 269.3 L622.1 271.1 L619.2 270.1 L617.4 265.1 L615.5 266.1 L611.6 260.8 L606.5 257.9 L604.4 254.7 L603.6 248.9 L600 243.3 L595.3 240.5 L593.1 243.2 L593.2 248 L593 253.8 L592.9 257.5 L588.3 257 L584.2 257.3 L588.6 260.2 L592.7 262.9 L594.5 260.2 L598.7 261.6 L598.2 265.7 L595.3 266.7 L596.9 271.2 L601.9 271.8 L610.1 272 L613.7 270 L615.5 266.1 L619.8 272.8 L623.7 279.7 L627.9 277.9 L631.4 273.4 L637.4 274.8 L634.7 280.5 L631.4 283.9 L627.5 288.5 L622.9 291.2 L620.3 299.9 L616.6 305.9 L614.5 307.2 L616.2 310.2 L621.5 306 L625.4 297.9 L628.4 292.1 L630 290.4 L629.5 294.5 L634.4 292.5 L638.9 295.2 L632.3 297.9 L630.4 301.7 L629.9 305.3 L625.1 312.9 L621 317.5 L623.9 320.8 L626.2 325.6 L625.8 329.6 L629 331.1 L633.2 333.3 L639.6 339.8 L646.4 341.3 L649.5 345.4 L649.1 351.7 L651.3 355.4 L647.1 360.5 L646.5 364.7 L640.3 365.2 L632.7 361.7 L625.6 361.9 L623.8 358.1 L625.8 348.9 L626.1 343.5 L622 341.9 L617.3 341.8 L612.9 344.6 L611 348.5 L608.9 349.3 L608.3 343.3 L608.3 342.5 L605 343 L606.1 338.6 L603.4 335.7 L600.8 335.3 L599.3 331.9 L595.7 330 L594 330 L592.3 325.7 L590.3 322.7 L585.4 324.4 L580.7 324.6 L577.9 321.4 L581.7 321.2 L585 321.6 L587.1 320.8 L589.3 318.5 L587.2 315.2 L586.5 309.6 L583.4 306.1 L583.9 303.6 L581.8 302.5 L578.2 302.8 L573.4 303.4 L573.3 299.2 L569.1 300.6 L566.1 301.6 L563.4 296.8 L560.6 294.8 L561.4 299.6 L565.4 304.5 L564.1 307.8 L557.7 310 L550.1 307.7 L548.6 310.2 L550.4 312.2 L557.2 313.1 L562.5 314.3 L567 313.2 L569.9 310.3 L573.1 312.1 L580.4 311.4 L583.6 313.8 L584.1 315.9 L582.5 317 L577.5 319.5 L573.8 321.5 L571.2 322.5 L574.2 323.4 L577.9 327.1 L575.4 330 L570.8 331.1 L566 331.8 L560.9 327.5 L557.3 324.8 L552.4 323.5 L548.1 322.4 L545.1 322.6 L539.9 319.8 L536.2 316.8 L533.5 315.1 L534.1 311.8 L533.9 309.6 L533.8 306.7 L533.3 303.8 L533.1 297.8 L535.1 294.6 L537.3 294.3 L540.2 299.6 L540.6 302.9 L544.1 297.2 L544 293 L540.3 290.9 L534.9 290.7 L529.4 295.9 L530.6 290.7 L521.2 287.8 L516.7 286.6 L512.6 287.3 L509.5 281.8 L507.5 283.5 L505.6 288.2 L500.9 292.7 L499.7 287.6 L502.3 280 L504.6 273.5 L502.1 275.9 L500.9 280.2 L499.2 285.9 L496.9 290.8 L494.9 287.9 L491.9 291.8 L491.3 287.2 L486.5 291.5 L484 296.4 L480.5 298.9 L475.4 304.5 L468.2 301.7 L467.8 294.6 L461.5 296.8 L457.1 297.6 L452.8 300.4 L447.8 297.3 L444.7 302.3 L444.8 306.7 L436.7 311.7 L434.5 313.2 L427.9 319.7 L426.1 328.8 L426.5 329.9 L422.9 336.9 L419.9 341.2 L417.3 346.6 L414.9 351.2 L410 348.7 L409 345.6 L413.9 340.2 L410 335.8 L403.3 337.6 L398 324.6 L397.6 317.5 L400.5 315.1 L394 309.8 L387.4 309.8 L383.8 305.5 L380.2 301.2 L376.7 292.8 L386.3 294.9 L394.2 300.3 L399.5 308.2 L404.5 315.5 L405.9 317.3 L405.2 310.3 L402.9 300 L404.7 293.2 L409.3 287.7 L411.7 284.5 L410.2 272.5 L409.1 265.4 L399.4 270.5 L395.3 268 L387.8 259.1 L384.9 249.8 L384.1 237.4 L387.5 231.9 L388.9 228.4 L387.5 222.8 L388.8 215 L380.9 213.1 L375.7 206.6 L381 199.3 L385.9 206 L388.3 208.3 L393.3 210.4 L396.9 211.3 L400.6 205.5 L402 204.2 L403.8 210.6 L407.1 205.7 L410.1 200 L407.2 197.6 L403.9 197.4 L396.6 201.7 L399.2 193.8 L399.9 189.2 L392.3 185.1 L386.6 181.9 L384 177.7 L380.4 169.9 L381.5 157.8 L385.9 143.9 L393.3 137.1 L403.5 129.2 L404.3 123.5 L409 127.2 L414.6 125.3 L418.4 117.4 L419.3 110.4 L405.9 102.9 L400.8 97.4" fill="none" stroke="#000" stroke-width="1.9" stroke-linejoin="round"/>
<path d="M641.2 239.6 L644.7 236.6 L651.7 225.9 L658 213.9 L668.1 199.3 L671.6 189.7 L679.7 174.8" fill="none" stroke="#000" stroke-width="1.9" stroke-linejoin="round"/>
<path d="M641.6 228.6 L647 226.1 L651.9 212.5 L658.6 197.6 L664 174 L671.2 165.1" fill="none" stroke="#000" stroke-width="1.9" stroke-linejoin="round"/>
<path d="M648.2 143.3 L638.5 141.3 L624.1 139 L606.4 143 L594.9 148.4 L596.8 154.9 L598.4 167.4 L607.7 165.5 L616.6 172.2 L612.4 177.6 L616.5 181 L613.3 191.3 L610.2 196.3 L606.5 193 L606.6 182.1 L603.3 174.8 L595.6 170.4 L594.3 162.4 L585.3 156.2 L575.8 150.8 L566.5 144.7 L565 138.4 L563.3 132.4 L558.1 123.8 L550.6 127.9 L551.1 122.3 L553.6 114.1 L553.1 93" fill="none" stroke="#000" stroke-width="1.9" stroke-linejoin="round"/>
<path d="M527.5 87.2 L526.7 91.7 L513.5 98.8 L502.3 106.5 L493.8 114.5 L484 116.4 L477.1 118.6 L471.9 108.2 L465 97.8 L465.4 91 L460.1 90.6 L454 94.4 L449.3 85.9" fill="none" stroke="#000" stroke-width="1.9" stroke-linejoin="round"/>
<path d="M569.3 240.9 L564.1 234.5 L572 232.2 L573.4 222.4 L576.6 216.1 L580.7 205.9 L586 208.5 L589.7 215.3 L582.6 222.3 L582.3 229.8 L579 236.1 L572.3 239.1 L569.3 240.9" fill="none" stroke="#000" stroke-width="1.9" stroke-linejoin="round"/>
<path d="M547.5 224.4 L549.2 218.9 L554.5 216.8 L556.3 221 L552.7 224.7 L547.5 224.4" fill="none" stroke="#000" stroke-width="1.9" stroke-linejoin="round"/>
<path d="M450 243 L449.5 235.8 L456.1 227.2 L453.6 229.5 L450.7 236.4 L450 243" fill="none" stroke="#000" stroke-width="1.9" stroke-linejoin="round"/>
<path d="M520 213.4 L509.2 209.1 L520.9 210.2 L520 213.4" fill="none" stroke="#000" stroke-width="1.9" stroke-linejoin="round"/>
<path d="M516.2 293 L515.8 297.5 L510.6 301 L503 303.2 L498.1 304.1 L502.4 301.3 L510.9 297.6 L513.7 292.4 L516.2 293" fill="none" stroke="#000" stroke-width="1.9" stroke-linejoin="round"/>
<path d="M512.8 332.9 L511.1 329.1 L511.3 325.7 L516.2 326 L521.1 327.7 L517.8 331.2 L512.8 332.9" fill="none" stroke="#000" stroke-width="1.9" stroke-linejoin="round"/>
<path d="M501.8 319.3 L497.8 317 L498.1 314.5 L501.8 316.2 L501.8 319.3" fill="none" stroke="#000" stroke-width="1.9" stroke-linejoin="round"/>
<path d="M481.7 313.1 L479 310.6 L475.4 306.9 L478.1 305.4 L482.4 308.7 L481.7 313.1" fill="none" stroke="#000" stroke-width="1.9" stroke-linejoin="round"/>
<path d="M453.9 311.9 L449.2 315.5 L448.8 312.5 L451.7 309.9 L453.9 311.9" fill="none" stroke="#000" stroke-width="1.9" stroke-linejoin="round"/>
<path d="M430.3 337.6 L429.4 341.4 L428.2 340 L428.8 338 L430.3 337.6" fill="none" stroke="#000" stroke-width="1.9" stroke-linejoin="round"/>
<path d="M399.7 274.3 L393 270.9 L383.8 267 L376.8 259.7 L380.3 257.9 L386.8 263 L394.8 268.6 L399.7 274.3" fill="none" stroke="#000" stroke-width="1.9" stroke-linejoin="round"/>
<path d="M369.8 243.8 L374.2 248.2 L377.6 255.3 L371.2 257.1 L366.5 258.5 L367.3 254.9 L366.4 251 L371.2 247.6 L369.8 243.8" fill="none" stroke="#000" stroke-width="1.9" stroke-linejoin="round"/>
<path d="M368.9 206.6 L367 215.7 L362.4 220.8 L364.5 227.5 L360.8 230 L363 235.6 L366.1 240.1 L369.1 243.6 L367.6 246 L361.4 243.2 L359.4 238.8 L353.9 232.5 L352.4 228.6 L353.9 225.1 L357.3 220.8 L356.9 215.4 L360.8 216.7 L365.3 211.8 L368.9 206.6" fill="none" stroke="#000" stroke-width="1.9" stroke-linejoin="round"/>
<path d="M363 197.8 L370.3 202 L368.6 206.3 L364.3 205.6 L361.8 199.9 L363 197.8" fill="none" stroke="#000" stroke-width="1.9" stroke-linejoin="round"/>
<path d="M363.7 207.7 L363.1 212.9 L360.1 213.8 L361.3 207.4 L363.7 207.7" fill="none" stroke="#000" stroke-width="1.9" stroke-linejoin="round"/>
<path d="M374.6 160.4 L370 147.8 L375.5 151.8 L374.6 160.4" fill="none" stroke="#000" stroke-width="1.9" stroke-linejoin="round"/>
<path d="M405 121.9 L408.8 116.9 L404.4 114.2 L400.4 119 L405 121.9" fill="none" stroke="#000" stroke-width="1.9" stroke-linejoin="round"/>
<path d="M362.4 134.9 L356.9 137.2 L352.2 128.1 L350.5 121.1 L359.7 123.6 L362.4 134.9" fill="none" stroke="#000" stroke-width="1.9" stroke-linejoin="round"/>
<path d="M603.6 350.5 L601.8 341.1 L600.2 336.2 L595 335.7 L594.4 338.4 L589.6 340.5 L585.5 342.5 L579.8 342 L579.3 345.7 L576.6 344.2 L576.7 347.1 L581.2 349.2 L586 348.8 L588.3 348.1 L591.1 344.6 L593.3 345.3 L593.4 347.6 L597.2 348.3 L598.5 349 L599.4 345 L600.5 347.8 L603.6 350.5" fill="none" stroke="#000" stroke-width="1.9" stroke-linejoin="round"/>
<path d="M586.3 352.1 L590.1 349.4 L596.3 351.6 L597.6 358.4 L591.8 358 L588.7 357.5 L586.3 352.1" fill="none" stroke="#000" stroke-width="1.9" stroke-linejoin="round"/>
<path d="M638.3 295.9 L642.8 295.9 L644.3 297.5 L641.8 304 L639.9 302.1 L638.3 295.9" fill="none" stroke="#000" stroke-width="1.9" stroke-linejoin="round"/>
<path d="M631.7 314.8 L638.5 312.9 L639.7 316 L633.5 317.5 L631.7 314.8" fill="none" stroke="#000" stroke-width="1.9" stroke-linejoin="round"/>
<path d="M625.6 315.6 L631.1 315.2 L629.3 317 L625.6 315.6" fill="none" stroke="#000" stroke-width="1.9" stroke-linejoin="round"/>
<path d="M639.4 271.1 L637.3 263.2 L640.3 266.8 L639.4 271.1" fill="none" stroke="#000" stroke-width="1.9" stroke-linejoin="round"/>
<path d="M623.8 242.9 L629.3 244.6 L628.9 247.4 L623.8 242.9" fill="none" stroke="#000" stroke-width="1.9" stroke-linejoin="round"/>
<path d="M416.4 442.2 L472.8 461.9 L473.1 460.6 L476.4 463.5 L485.1 465.7 L487.4 467.9 L496.6 470.1 L499.2 472.1 L503.2 479.1 L503 483 L501.9 484.8 L511.7 481.5 L511.2 478.8 L516.3 476.7 L517 474.4 L519.8 470.9 L527.4 468.6 L528.6 467.1 L529.7 459.3 L531.7 458.9 L533.1 459.4 L536.3 464.6" fill="none" stroke="#000" stroke-width="1.8" stroke-linejoin="round"/>
<path d="M437.9 376.4 L416 394.1 L418.4 399.2 L416.3 401 L420.3 401.6 L419.9 406.5 L418.2 413.4 L418.9 416.5 L415.7 418.7" fill="none" stroke="#000" stroke-width="1.8" stroke-linejoin="round"/>
<path d="M401.5 500.2 L408.7 502.8 L417.5 512.2 L426 515.3 L431.8 515.1 L435.9 524.9 L440.3 528.4 L445.9 526.5 L450.9 536.5 L458.2 543.6" fill="none" stroke="#000" stroke-width="1.8" stroke-linejoin="round"/>
<path d="M474.2 593.9 L477.5 587.6 L481.8 587.2 L479.8 579.6 L487.4 579.6 L491 576.5" fill="none" stroke="#000" stroke-width="1.8" stroke-linejoin="round"/>
<path d="M487.4 579.6 L488.8 588.1" fill="none" stroke="#000" stroke-width="1.8" stroke-linejoin="round"/>
<path d="M433.6 451.6 L433.5 442.6 L430.1 432.4 L439.8 415.6" fill="none" stroke="#000" stroke-width="1.8" stroke-linejoin="round"/>
<path d="M441.8 454.9 L453.8 422.1" fill="none" stroke="#000" stroke-width="1.8" stroke-linejoin="round"/>
<path d="M459.6 459.9 L463.1 438.3 L465.6 425.5" fill="none" stroke="#000" stroke-width="1.8" stroke-linejoin="round"/>
<path d="M472.8 461.9 L473.9 449.6 L485.7 437" fill="none" stroke="#000" stroke-width="1.8" stroke-linejoin="round"/>
<path d="M520.1 469.1 L509.2 468.9 L507.4 465.2 L505 452.3" fill="none" stroke="#000" stroke-width="1.8" stroke-linejoin="round"/>
<path d="M521.3 418.2 L524.8 422.7 L530.3 432.2 L524.2 435 L530.2 442.8 L545.7 434.4 L546.8 436" fill="none" stroke="#000" stroke-width="1.8" stroke-linejoin="round"/>
<path d="M415.3 394.6 L420.4 400.4 L426 405.7 L432 410.5 L438.5 414.8 L445.2 418.5 L452.3 421.6 L459.6 424 L467.1 425.8 L474.8 426.9 L476.6 427.1" fill="none" stroke="#000" stroke-width="1.8" stroke-linejoin="round"/>
<path d="M434.6 412.3 L432.2 402.9 L435 397.4 L435.3 389.5 L435.5 385.5 L439.6 381.1" fill="none" stroke="#000" stroke-width="1.8" stroke-linejoin="round"/>
<path d="M465.6 425.5 L468.3 412.9 L460.2 408.2 L450.9 394.7 L453.5 390.3" fill="none" stroke="#000" stroke-width="1.8" stroke-linejoin="round"/>
<path d="M410 449.1 L411.6 452.6 L418.6 455.6 L423.5 457.8" fill="none" stroke="#000" stroke-width="1.8" stroke-linejoin="round"/>
<path d="M401.2 460.4 L405.6 463.3 L410.1 466 L414.7 468.5 L419.4 470.9 L424.1 473.2" fill="none" stroke="#000" stroke-width="1.8" stroke-linejoin="round"/>
<path d="M429.8 449.8 L427.9 453.7 L429.1 456.8 L428.4 461.6 L429.9 466.4 L434.3 468.1 L431.2 476.1" fill="none" stroke="#000" stroke-width="1.8" stroke-linejoin="round"/>
<path d="M427.9 448.9 L424 456.6 L422.4 461 L420.4 463.8 L417.2 469.9" fill="none" stroke="#000" stroke-width="1.8" stroke-linejoin="round"/>
<path d="M410.5 466.2 L405.3 475.3 L412.5 495.2" fill="none" stroke="#000" stroke-width="1.8" stroke-linejoin="round"/>
<path d="M424.1 473.2 L416.9 489.2 L415.6 492.2 L412.5 495.2 L412.5 498 L408.7 502.8" fill="none" stroke="#000" stroke-width="1.8" stroke-linejoin="round"/>
<path d="M416.9 489.2 L425.6 492.8 L434.3 495.9 L443.3 498.4 L452.4 500.5 L461.6 502 L470.8 503" fill="none" stroke="#000" stroke-width="1.8" stroke-linejoin="round"/>
<path d="M434.9 481.2 L423.4 514.4" fill="none" stroke="#000" stroke-width="1.8" stroke-linejoin="round"/>
<path d="M434.9 466.6 L450.8 471.6 L447.5 484.9 L430 479.4 L434.9 466.6" fill="none" stroke="#000" stroke-width="1.8" stroke-linejoin="round"/>
<path d="M454 458.7 L450.8 471.6" fill="none" stroke="#000" stroke-width="1.8" stroke-linejoin="round"/>
<path d="M447.5 484.9 L452.6 486.1 L449.7 499.9" fill="none" stroke="#000" stroke-width="1.8" stroke-linejoin="round"/>
<path d="M447 499.3 L442.9 517.2 L431.7 514.3" fill="none" stroke="#000" stroke-width="1.8" stroke-linejoin="round"/>
<path d="M446.6 501.1 L455.1 502.8 L453.9 509.6 L459.5 513.5 L467.1 514 L470.4 515.4" fill="none" stroke="#000" stroke-width="1.8" stroke-linejoin="round"/>
<path d="M451.6 468.5 L457.2 469.8 L462.9 470.8 L468.7 471.6" fill="none" stroke="#000" stroke-width="1.8" stroke-linejoin="round"/>
<path d="M449.2 478.2 L462.8 480.9 L467.6 483.3" fill="none" stroke="#000" stroke-width="1.8" stroke-linejoin="round"/>
<path d="M451.9 489.5 L457.8 490.6 L463.8 491.5 L469.8 492.2" fill="none" stroke="#000" stroke-width="1.8" stroke-linejoin="round"/>
<path d="M468.5 461.4 L468.7 471.4 L468.6 473.8 L468 479.9 L467.6 483.3 L468.5 488.6 L469.8 492.2 L471.4 495.5 L470.7 504.8 L470.4 515.4 L471.3 517.7 L471.7 529.1" fill="none" stroke="#000" stroke-width="1.8" stroke-linejoin="round"/>
<path d="M468 479.9 L472.3 480.3 L476.7 480.6 L481 480.7" fill="none" stroke="#000" stroke-width="1.8" stroke-linejoin="round"/>
<path d="M468.7 490 L472.5 490.3 L476.4 490.6 L480.3 490.7" fill="none" stroke="#000" stroke-width="1.8" stroke-linejoin="round"/>
<path d="M470.7 504.8 L475.6 505.1 L480.5 505.3 L485.5 505.3" fill="none" stroke="#000" stroke-width="1.8" stroke-linejoin="round"/>
<path d="M471.3 517.7 L475.8 518 L480.2 518.1" fill="none" stroke="#000" stroke-width="1.8" stroke-linejoin="round"/>
<path d="M479.6 466.3 L479.2 469.9 L477.4 473.8 L478.4 477.3 L481 480.7 L482.5 484.2 L482.7 487.6 L480.3 490.7 L482.1 496.4 L483.4 500 L486.3 503.5 L485.5 505.3 L483.4 510.8 L480.2 518.1 L478.8 525.6 L485 525.7 L485.3 528.8" fill="none" stroke="#000" stroke-width="1.8" stroke-linejoin="round"/>
<path d="M482.5 484.2 L486 484.2 L489.6 484.1" fill="none" stroke="#000" stroke-width="1.8" stroke-linejoin="round"/>
<path d="M490.5 486.8 L490.8 495.2 L489.6 499.9 L486.6 503.2" fill="none" stroke="#000" stroke-width="1.8" stroke-linejoin="round"/>
<path d="M497.4 486.4 L498.2 495.4" fill="none" stroke="#000" stroke-width="1.8" stroke-linejoin="round"/>
<path d="M486.6 503.2 L491.1 500.5 L495.8 499.5 L498.2 495.4 L504.5 496.8 L508.8 491.9 L509.1 488.7 L508.2 483.9" fill="none" stroke="#000" stroke-width="1.8" stroke-linejoin="round"/>
<path d="M490.5 486.8 L494 486.6 L497.5 486.3 L501 486" fill="none" stroke="#000" stroke-width="1.8" stroke-linejoin="round"/>
<path d="M485.4 505.1 L490 505 L494.5 504.8 L499 504.5 L503.5 504 L508 503.4" fill="none" stroke="#000" stroke-width="1.8" stroke-linejoin="round"/>
<path d="M483.4 510.8 L487.7 510.7 L491.9 510.6 L496.2 510.4 L500.4 510 L504.6 509.5" fill="none" stroke="#000" stroke-width="1.8" stroke-linejoin="round"/>
<path d="M489.4 510.7 L489.2 525.6 L489.3 528.3" fill="none" stroke="#000" stroke-width="1.8" stroke-linejoin="round"/>
<path d="M497.2 510.3 L499.8 520.1 L500.3 525 L500.7 526.1" fill="none" stroke="#000" stroke-width="1.8" stroke-linejoin="round"/>
<path d="M491.8 525.5 L500.3 525 L500.7 526.1 L509.5 525.5 L511.8 524.8" fill="none" stroke="#000" stroke-width="1.8" stroke-linejoin="round"/>
<path d="M504.6 509.5 L508.7 514.6 L512.9 519.6" fill="none" stroke="#000" stroke-width="1.8" stroke-linejoin="round"/>
<path d="M504.6 509.5 L510.8 507.9 L514.8 508.7 L518.8 511.4" fill="none" stroke="#000" stroke-width="1.8" stroke-linejoin="round"/>
<path d="M508 503.4 L513.5 502.5 L519 501.4 L524.5 500.1" fill="none" stroke="#000" stroke-width="1.8" stroke-linejoin="round"/>
<path d="M502.2 504 L506.6 500.2 L508.7 500.6 L512.7 495.6 L515.7 492.1 L517.3 491.8" fill="none" stroke="#000" stroke-width="1.8" stroke-linejoin="round"/>
<path d="M509.6 491.7 L513.7 491 L517.9 490.1 L522 489.1" fill="none" stroke="#000" stroke-width="1.8" stroke-linejoin="round"/>
<path d="M508.2 483.9 L521.3 481.1 L523.3 482.7 L522.8 484.7 L524.2 486.8 L523 488.6" fill="none" stroke="#000" stroke-width="1.8" stroke-linejoin="round"/>
<path d="M523.3 469.9 L524.6 474.5 L525.5 477.4 L525.7 479.9 L526.2 483.3" fill="none" stroke="#000" stroke-width="1.8" stroke-linejoin="round"/>
<path d="M527.4 468.6 L526.9 473.4 L527.5 476.8" fill="none" stroke="#000" stroke-width="1.8" stroke-linejoin="round"/>
<path d="M525.5 477.4 L528.4 476.5 L531.3 475.6" fill="none" stroke="#000" stroke-width="1.8" stroke-linejoin="round"/>
<path d="M525.7 479.8 L528.3 479 L530.8 478.2" fill="none" stroke="#000" stroke-width="1.8" stroke-linejoin="round"/>
<path d="M528.2 467.3 L531.1 474.2" fill="none" stroke="#000" stroke-width="1.8" stroke-linejoin="round"/>
<path d="M534.5 308.9 L537.6 309.5 L539.8 307.4 L547.5 302.6 L552.1 297.3 L558.6 297.6 L560.9 298.5" fill="none" stroke="#000" stroke-width="1.8" stroke-linejoin="round"/>
<path d="M541.3 317.6 L544 318.9 L551.8 320.8 L557.9 320.6 L561.4 322.3 L567.3 320.5 L573.6 320.6" fill="none" stroke="#000" stroke-width="1.8" stroke-linejoin="round"/>
<path d="M541.3 317.6 L541.7 314.5 L545.4 311.9 L548.6 310.1" fill="none" stroke="#000" stroke-width="1.8" stroke-linejoin="round"/>
<path d="M541.3 317.6 L539.7 312.4 L535.4 311.7 L534.5 308.9" fill="none" stroke="#000" stroke-width="1.8" stroke-linejoin="round"/>
<path d="M563.6 296.5 L569.3 294.6 L572.9 291.3 L572 287.2 L575.8 280.5 L577.4 276 L578.3 271.7 L577.9 265.7 L576.3 261.6 L581.3 257.9 L585.5 258.8" fill="none" stroke="#000" stroke-width="1.8" stroke-linejoin="round"/>
<path d="M578.2 302.8 L574.7 297.7 L572.9 291.3" fill="none" stroke="#000" stroke-width="1.8" stroke-linejoin="round"/>
<path d="M570.5 299.9 L569.2 295" fill="none" stroke="#000" stroke-width="1.8" stroke-linejoin="round"/>
<path d="M583.7 303.1 L582 297.8 L582.6 296.1 L578.2 293.4 L575.3 293.3 L572.9 291.3" fill="none" stroke="#000" stroke-width="1.8" stroke-linejoin="round"/>
<path d="M582 297.8 L586.7 294.2 L589.5 292.7 L592.5 290.7 L597.9 291.6" fill="none" stroke="#000" stroke-width="1.8" stroke-linejoin="round"/>
<path d="M589.5 292.7 L586.7 286.7 L583.6 280.3 L579.5 279.3 L577.4 276" fill="none" stroke="#000" stroke-width="1.8" stroke-linejoin="round"/>
<path d="M588.3 312.6 L592.4 310.8 L596.9 308.8 L600.4 313.8 L604.5 309.4 L603.3 302.8 L597.9 291.6 L600.5 290 L599.3 286.5 L595.2 281.1 L597.8 272.8 L601.9 271.8" fill="none" stroke="#000" stroke-width="1.8" stroke-linejoin="round"/>
<path d="M592.9 325.2 L596.8 325.5 L600.2 326.8 L605 325.6 L606.1 321.4 L610.9 322.1 L610.2 317.7 L609 310.1 L604.5 309.4" fill="none" stroke="#000" stroke-width="1.8" stroke-linejoin="round"/>
<path d="M600.4 333.7 L602.8 330.5 L605.1 326.7 L605 325.6" fill="none" stroke="#000" stroke-width="1.8" stroke-linejoin="round"/>
<path d="M610.9 322.1 L615.9 324.9 L616.7 322.7 L622.5 320.3 L623.6 320.6" fill="none" stroke="#000" stroke-width="1.8" stroke-linejoin="round"/>
<path d="M599.3 331.9 L599.4 328.9 L600.2 326.8" fill="none" stroke="#000" stroke-width="1.8" stroke-linejoin="round"/>
<path d="M587.2 323.4 L587.1 321" fill="none" stroke="#000" stroke-width="1.8" stroke-linejoin="round"/>
<path d="M616.7 322.7 L614.5 319.5 L613.5 315 L611.7 311.4 L611.9 307.8 L614.8 306.9" fill="none" stroke="#000" stroke-width="1.8" stroke-linejoin="round"/>
<path d="M611.9 307.8 L609.2 302.9 L605.1 301.8 L604.4 297.5 L600.5 290" fill="none" stroke="#000" stroke-width="1.8" stroke-linejoin="round"/>
<path d="M609.2 302.9 L610.5 295.9 L608.7 292.9 L611.2 288.9 L611.2 286.3 L614.1 285.4 L611.4 278.3 L608.2 274.9 L607.9 271.5" fill="none" stroke="#000" stroke-width="1.8" stroke-linejoin="round"/>
<path d="M608.7 292.9 L601 289.6" fill="none" stroke="#000" stroke-width="1.8" stroke-linejoin="round"/>
<path d="M614.2 303.4 L612.6 294.7 L613.6 293.6 L621.7 292.9 L622.6 290.2" fill="none" stroke="#000" stroke-width="1.8" stroke-linejoin="round"/>
<path d="M629.6 286 L624.7 285 L621.5 280.6 L617.6 273.8 L618.7 272.1 L620 272.4" fill="none" stroke="#000" stroke-width="1.8" stroke-linejoin="round"/>
<path d="M621.5 280.6 L618.9 283.4 L614.1 285.4" fill="none" stroke="#000" stroke-width="1.8" stroke-linejoin="round"/>
<path d="M617.6 273.8 L613.7 270" fill="none" stroke="#000" stroke-width="1.8" stroke-linejoin="round"/>
<path d="M629.5 361.8 L630.3 355.7 L636.8 357.5 L640.2 358.7 L646.4 360.1" fill="none" stroke="#000" stroke-width="1.8" stroke-linejoin="round"/>
<path d="M626.1 343.5 L628.5 337.7 L629.3 331.1" fill="none" stroke="#000" stroke-width="1.8" stroke-linejoin="round"/>
<path d="M595.3 240.5 L592.6 236 L594.5 230.4 L598.4 227.3 L600.2 223.6 L605.4 228.5 L613.6 235.9 L619.1 240.1" fill="none" stroke="#000" stroke-width="1.8" stroke-linejoin="round"/>
<path d="M592.9 247.6 L587.6 237.2 L585.6 231.9 L583 226.7" fill="none" stroke="#000" stroke-width="1.8" stroke-linejoin="round"/>
<path d="M592.6 236 L587 230.4 L586.8 223.6 L593.2 225.1 L594.5 230.4" fill="none" stroke="#000" stroke-width="1.8" stroke-linejoin="round"/>
<path d="M594.5 230.4 L600.2 223.6 L603.3 215.4 L608.5 210.1 L609.7 200.9 L610.2 196.3" fill="none" stroke="#000" stroke-width="1.8" stroke-linejoin="round"/>
<path d="M580.3 206.9 L570.8 204.3 L563.8 193.9 L565.7 190.4 L570.4 186.3 L573.9 177.5 L577 171.9 L574.5 159 L583.6 154.8" fill="none" stroke="#000" stroke-width="1.8" stroke-linejoin="round"/>
<path d="M605.4 228.5 L615.3 224.9 L622.5 227.7 L629.6 230.1 L628.6 235.1" fill="none" stroke="#000" stroke-width="1.8" stroke-linejoin="round"/>
<path d="M622.5 227.7 L625.8 223.4 L631.6 227.8 L635.2 223 L642 228.4" fill="none" stroke="#000" stroke-width="1.8" stroke-linejoin="round"/>
<path d="M625.8 223.4 L621.9 202.5 L617.5 198.3 L611.5 197.4" fill="none" stroke="#000" stroke-width="1.8" stroke-linejoin="round"/>
<path d="M637.5 234.7 L641.8 228.9" fill="none" stroke="#000" stroke-width="1.8" stroke-linejoin="round"/>
<path d="M650.9 260.5 L659.5 257.2 L685.7 244.9 L673.8 222.7 L662 205.4" fill="none" stroke="#000" stroke-width="1.8" stroke-linejoin="round"/>
<path d="M658.8 303.4 L671.2 307.7 L685.1 303.5 L691.8 302.4 L695.6 294 L697.8 284.9 L692.6 280 L697.1 244.1 L695.1 245 L693.4 241.3 L685.7 244.9" fill="none" stroke="#000" stroke-width="1.8" stroke-linejoin="round"/>
<path d="M647 314.3 L657.2 316.2 L663.1 312.9 L671.2 307.7" fill="none" stroke="#000" stroke-width="1.8" stroke-linejoin="round"/>
<path d="M655.3 345.6 L666.5 342.8 L675.7 355.8 L677.3 368.6 L681.2 369.2 L678.2 384.5" fill="none" stroke="#000" stroke-width="1.8" stroke-linejoin="round"/>
<path d="M682.7 369.4 L693.5 356.6 L707.4 343.7 L719 325.5 L716 315.4 L695.6 294" fill="none" stroke="#000" stroke-width="1.8" stroke-linejoin="round"/>
<path d="M682.7 369.4 L687.8 370.2 L685.7 381.9 L695.6 384 L695.6 387.9 L703.8 389.7 L699.7 404.9" fill="none" stroke="#000" stroke-width="1.8" stroke-linejoin="round"/>
<path d="M693.5 356.6 L692.9 362.8 L733.8 363.1" fill="none" stroke="#000" stroke-width="1.8" stroke-linejoin="round"/>
<path d="M720.5 408.2 L722.7 398.5 L729 393.3 L732.4 392.7" fill="none" stroke="#000" stroke-width="1.8" stroke-linejoin="round"/>
<path d="M719 325.5 L734.5 323.7 L737.2 334.6" fill="none" stroke="#000" stroke-width="1.8" stroke-linejoin="round"/>
<path d="M692.6 280 L706.7 277.2 L723.6 272.5 L732.5 279.4" fill="none" stroke="#000" stroke-width="1.8" stroke-linejoin="round"/>
<path d="M695.1 245 L712.4 237.3 L717.4 240.9" fill="none" stroke="#000" stroke-width="1.8" stroke-linejoin="round"/>
<path d="M671.6 189.7 L679 192 L687.6 188.4 L686.7 183.5" fill="none" stroke="#000" stroke-width="1.8" stroke-linejoin="round"/>
<path d="M665.1 171.3 L658.4 170.6 L650.5 160.4 L628.9 153.5 L616.5 149.7 L609.6 158.3 L617.2 164.8 L616.6 172.2" fill="none" stroke="#000" stroke-width="1.8" stroke-linejoin="round"/>
<path d="M628.9 153.5 L631.7 142.3" fill="none" stroke="#000" stroke-width="1.8" stroke-linejoin="round"/>
<path d="M609.6 158.3 L604 162.4 L600.6 164.1" fill="none" stroke="#000" stroke-width="1.8" stroke-linejoin="round"/>
<path d="M569.7 242.1 L569.6 247.9 L565.1 250.4 L557.9 249.3 L552.4 243.1 L545.1 239.4 L540.2 235.4 L536.4 243.6 L528.2 242 L520.9 242.7 L517.1 237 L509.4 233.2 L504.3 223.9 L496.3 222.1 L489.8 216.4" fill="none" stroke="#000" stroke-width="1.8" stroke-linejoin="round"/>
<path d="M574.1 221.6 L567.5 215.2 L560.4 225.7 L554.3 223.8 L552.3 214.8 L545 211 L543.5 200.9 L540.3 199.6 L532.5 202.1 L523.6 201.1 L510.3 197.2 L507 204.3 L499.8 210 L489.8 216.4" fill="none" stroke="#000" stroke-width="1.8" stroke-linejoin="round"/>
<path d="M567.5 215.2 L558.8 209.4 L556.9 212.7 L555.4 207.4 L553 197.5 L549.3 188.8 L552.9 191.2 L565.7 190.4" fill="none" stroke="#000" stroke-width="1.8" stroke-linejoin="round"/>
<path d="M549.3 188.8 L539.7 186.1 L536.3 188.7 L536.2 183 L526.9 181.3 L536 179.1 L541.1 173.1 L545.9 170.8 L551.5 167.8 L562.3 163.2 L577 171.9" fill="none" stroke="#000" stroke-width="1.8" stroke-linejoin="round"/>
<path d="M540.3 199.6 L533.9 194.2 L527.4 189.5 L523.9 192.2 L509 194.2 L510.3 197.2" fill="none" stroke="#000" stroke-width="1.8" stroke-linejoin="round"/>
<path d="M527.4 189.5 L527.9 186 L526.9 181.3" fill="none" stroke="#000" stroke-width="1.8" stroke-linejoin="round"/>
<path d="M525.1 180.1 L519.9 172.9 L530.9 164.1 L537.2 156 L551.8 152.7 L553.5 142.7 L553.4 137.5 L564 138.9" fill="none" stroke="#000" stroke-width="1.8" stroke-linejoin="round"/>
<path d="M519.9 172.9 L518.5 161.3 L513.7 151.6 L497.8 141.2 L488.2 140 L476.9 136.1 L463.1 146.9 L459.6 140.2 L458.2 143.2" fill="none" stroke="#000" stroke-width="1.8" stroke-linejoin="round"/>
<path d="M513.7 151.6 L516.4 145.4 L503.3 138.9 L491.1 134.5 L488.2 140" fill="none" stroke="#000" stroke-width="1.8" stroke-linejoin="round"/>
<path d="M491.1 134.5 L489.5 128.8 L487.9 116.4 L487.5 115.6" fill="none" stroke="#000" stroke-width="1.8" stroke-linejoin="round"/>
<path d="M491.1 134.5 L484.7 132.8 L475.6 129.7 L479 120.6 L475.4 123.6 L474.9 113.6 L474.5 111.5" fill="none" stroke="#000" stroke-width="1.8" stroke-linejoin="round"/>
<path d="M476.9 136.1 L487.6 135.6" fill="none" stroke="#000" stroke-width="1.8" stroke-linejoin="round"/>
<path d="M458.2 143.2 L464.6 137.7 L468.3 125.3 L472.4 116.7 L474.9 113.6" fill="none" stroke="#000" stroke-width="1.8" stroke-linejoin="round"/>
<path d="M458.2 143.2 L453.2 133.1 L455.3 126.6 L445.3 119.8 L440.4 118.6 L443.3 112.8 L451.9 101.4 L447.2 95.3 L447.6 86.1" fill="none" stroke="#000" stroke-width="1.8" stroke-linejoin="round"/>
<path d="M437.3 123.1 L440.4 118.6 L443.3 112.8 L438.7 110.2 L437.3 102.9 L430.1 105.4 L426.2 107.2 L417.5 99.4 L416.6 92.5" fill="none" stroke="#000" stroke-width="1.8" stroke-linejoin="round"/>
<path d="M437.3 123.1 L431.7 126.1 L426.7 129.5 L420.6 127.8 L415.1 125.6" fill="none" stroke="#000" stroke-width="1.8" stroke-linejoin="round"/>
<path d="M437.3 123.1 L426.7 117.4 L427.3 111.4 L421.7 109.7 L411.7 102.5 L407 96.3" fill="none" stroke="#000" stroke-width="1.8" stroke-linejoin="round"/>
<path d="M489.8 216.4 L479.9 221.6 L467.3 220.1 L466.6 226.7 L457.2 222.9 L450.1 224.5 L445.1 222.6 L434.2 229.7 L427.4 231.6" fill="none" stroke="#000" stroke-width="1.8" stroke-linejoin="round"/>
<path d="M489.8 216.4 L481.7 207.4 L482.1 203 L468.1 195.4 L455.1 196.7 L445.7 196.1 L435.5 202.1 L431.1 208.2 L425.5 217.3 L419.1 225.2 L429 224.2 L427.4 231.6" fill="none" stroke="#000" stroke-width="1.8" stroke-linejoin="round"/>
<path d="M427.4 231.6 L426.1 238.6 L427.6 245.2 L423.1 248.8 L417.7 248.7 L409.6 243.1 L399.4 243.4 L395.4 249.8 L390.6 239.2 L393.7 235.9 L389.5 228.8" fill="none" stroke="#000" stroke-width="1.8" stroke-linejoin="round"/>
<path d="M397.1 211.6 L394.7 220.1 L393.3 223.4 L389.5 228.8" fill="none" stroke="#000" stroke-width="1.8" stroke-linejoin="round"/>
<path d="M387.6 209.2 L384.9 213.5" fill="none" stroke="#000" stroke-width="1.8" stroke-linejoin="round"/>
<path d="M489.8 216.4 L499.8 210 L507 204.3 L509 194.2 L523.9 192.2 L527.4 189.5 L526.9 181.3" fill="none" stroke="#000" stroke-width="1.8" stroke-linejoin="round"/>
<circle cx="272.2" cy="435.5" r="2.2" fill="#000"/>
<circle cx="275.5" cy="430.5" r="1.5" fill="#000"/>
<circle cx="275.6" cy="427.5" r="1.2" fill="#000"/>
<circle cx="275.5" cy="423.2" r="1.4" fill="#000"/>
<circle cx="275.7" cy="416.9" r="1.4" fill="#000"/>
<circle cx="379.4" cy="364.1" r="1.5" fill="#000"/>
<circle cx="376.9" cy="361.8" r="1.4" fill="#000"/>
<circle cx="374.8" cy="359.2" r="1" fill="#000"/>
<circle cx="372.3" cy="353.7" r="1.2" fill="#000"/>
<circle cx="371.2" cy="349.9" r="1.2" fill="#000"/>
<circle cx="370.2" cy="345.6" r="1.3" fill="#000"/>
<circle cx="369.8" cy="343" r="1" fill="#000"/>
<circle cx="369.1" cy="336" r="1.2" fill="#000"/>
<circle cx="370.5" cy="334" r="1" fill="#000"/>
<circle cx="374.1" cy="325.5" r="1.3" fill="#000"/>
<circle cx="375.3" cy="290.2" r="1.3" fill="#000"/>
<circle cx="373.3" cy="286.7" r="1" fill="#000"/>
<circle cx="369.3" cy="279.3" r="1" fill="#000"/>
<circle cx="368" cy="273.3" r="1.2" fill="#000"/>
<circle cx="368.7" cy="266.9" r="1.5" fill="#000"/>
<circle cx="368.4" cy="261" r="1.4" fill="#000"/>
<circle cx="382.9" cy="314.4" r="1.3" fill="#000"/>
<circle cx="407.1" cy="352.1" r="2" fill="#000"/>
<circle cx="398.4" cy="359.9" r="1.6" fill="#000"/>
<circle cx="388" cy="355.4" r="0.9" fill="#000"/>
<circle cx="480.3" cy="381.7" r="2" fill="#000"/>
<circle cx="477.2" cy="379.5" r="2.2" fill="#000"/>
<circle cx="475.3" cy="376.8" r="1.6" fill="#000"/>
<circle cx="480.1" cy="375.8" r="1.5" fill="#000"/>
<circle cx="478" cy="373.2" r="1.6" fill="#000"/>
<circle cx="476" cy="371.2" r="1.8" fill="#000"/>
<circle cx="469.9" cy="372.3" r="1.6" fill="#000"/>
<circle cx="464.5" cy="373.5" r="2" fill="#000"/>
<circle cx="499.4" cy="401" r="1.6" fill="#000"/>
<circle cx="496.4" cy="402.6" r="1.3" fill="#000"/>
<circle cx="495.8" cy="405.7" r="1.2" fill="#000"/>
<circle cx="498" cy="418.2" r="1.6" fill="#000"/>
<circle cx="494.7" cy="420.6" r="1.4" fill="#000"/>
<circle cx="511" cy="415.1" r="1.2" fill="#000"/>
<circle cx="519.2" cy="414.4" r="1.3" fill="#000"/>
<circle cx="505" cy="412.2" r="1.2" fill="#000"/>
<circle cx="493.4" cy="387.4" r="1.8" fill="#000"/>
<circle cx="496.5" cy="398" r="1.3" fill="#000"/>
<circle cx="494.2" cy="396.9" r="1.2" fill="#000"/>
<circle cx="498.9" cy="409.1" r="1.2" fill="#000"/>
<circle cx="502.1" cy="436.7" r="1.5" fill="#000"/>
<circle cx="502.2" cy="447.9" r="1.3" fill="#000"/>
<circle cx="565.7" cy="349" r="1.4" fill="#000"/>
<circle cx="571.2" cy="341" r="1.3" fill="#000"/>
<circle cx="575.4" cy="343.8" r="1.2" fill="#000"/>
<circle cx="579.4" cy="351.1" r="1.3" fill="#000"/>
<circle cx="577.4" cy="349.8" r="1.3" fill="#000"/>
<circle cx="656.4" cy="391.7" r="1.2" fill="#000"/>
<circle cx="673" cy="395" r="1.4" fill="#000"/>
<circle cx="675" cy="392.3" r="1.2" fill="#000"/>
<circle cx="674.2" cy="386.1" r="1.2" fill="#000"/>
<circle cx="670.1" cy="399.1" r="1" fill="#000"/>
<circle cx="624.3" cy="414.2" r="1.2" fill="#000"/>
<circle cx="629.9" cy="408.6" r="1.3" fill="#000"/>
<circle cx="639.1" cy="330.9" r="1.6" fill="#000"/>
<circle cx="637.7" cy="328" r="1" fill="#000"/>
<circle cx="641.4" cy="335.2" r="1" fill="#000"/>
<circle cx="575.5" cy="308.4" r="1.5" fill="#000"/>
<circle cx="578.2" cy="310.7" r="1.2" fill="#000"/>
<circle cx="570.2" cy="303.1" r="1.6" fill="#000"/>
<circle cx="568.7" cy="303.6" r="1.2" fill="#000"/>
<circle cx="584.2" cy="312.2" r="1" fill="#000"/>
<circle cx="584.8" cy="318.7" r="2" fill="#000"/>
<circle cx="585.4" cy="320.4" r="1.6" fill="#000"/>
<circle cx="586.6" cy="318.3" r="1.2" fill="#000"/>
<circle cx="566.5" cy="309" r="1.2" fill="#000"/>
<circle cx="631.2" cy="260.7" r="1.2" fill="#000"/>
<circle cx="624.5" cy="269.6" r="1" fill="#000"/>
<circle cx="627.4" cy="269.1" r="1" fill="#000"/>
<circle cx="628.5" cy="265.7" r="0.9" fill="#000"/>
<circle cx="629.6" cy="274.8" r="1.6" fill="#000"/>
<circle cx="630" cy="286.1" r="1" fill="#000"/>
<circle cx="634" cy="282.6" r="1" fill="#000"/>
<circle cx="358.3" cy="178.1" r="1.3" fill="#000"/>
<circle cx="358.6" cy="186.9" r="1" fill="#000"/>
<circle cx="364.5" cy="163.1" r="0.9" fill="#000"/>
<circle cx="378.3" cy="196.2" r="1.4" fill="#000"/>
<circle cx="373.6" cy="204.1" r="1" fill="#000"/>
<circle cx="363.6" cy="232.1" r="1.2" fill="#000"/>
<circle cx="361" cy="195" r="1" fill="#000"/>
<circle cx="446.3" cy="309.5" r="1.5" fill="#000"/>
<circle cx="447.9" cy="316.4" r="1.2" fill="#000"/>
<circle cx="451" cy="319.2" r="1" fill="#000"/>
<circle cx="500.7" cy="293.2" r="1.2" fill="#000"/>
<circle cx="473" cy="303" r="1.2" fill="#000"/>
<circle cx="483.4" cy="307.2" r="1.3" fill="#000"/>
<circle cx="466.8" cy="297.5" r="1" fill="#000"/>
<circle cx="528.2" cy="545.4" r="1.8" fill="#000"/>
<circle cx="526.4" cy="538.4" r="1.3" fill="#000"/>
<circle cx="529.9" cy="538" r="1.2" fill="#000"/>
<circle cx="534.1" cy="543.2" r="1.2" fill="#000"/>
<circle cx="539.5" cy="546" r="1.2" fill="#000"/>
<circle cx="539.5" cy="549" r="1" fill="#000"/>
<circle cx="545.6" cy="551.1" r="1" fill="#000"/>
<circle cx="549.1" cy="555.8" r="1.3" fill="#000"/>
<circle cx="553" cy="551.5" r="1" fill="#000"/>
<circle cx="599.2" cy="553.8" r="1" fill="#000"/>
<circle cx="602.2" cy="556.7" r="1.4" fill="#000"/>
<circle cx="604.7" cy="559.5" r="1.1" fill="#000"/>
</g>
<g shape-rendering="crispEdges">
<rect x="483" y="84" width="2" height="510" fill="#000"/>
<rect x="229" y="338" width="510" height="2" fill="#000"/>
</g>
<circle cx="484" cy="339" r="255" fill="none" stroke="#000" stroke-width="2"/>
<g font-family="'Liberation Sans', sans-serif" font-size="11" text-anchor="middle">
<rect x="430.5" y="123" width="16" height="11" fill="#fff"/>
<text x="438.5" y="132.5" textLength="14" lengthAdjust="spacingAndGlyphs">−2</text>
<rect x="397.5" y="141" width="16" height="11" fill="#fff"/>
<text x="405.5" y="150.5" textLength="14" lengthAdjust="spacingAndGlyphs">−2</text>
<rect x="486.5" y="104.5" width="16" height="11" fill="#fff"/>
<text x="494.5" y="114" textLength="14" lengthAdjust="spacingAndGlyphs">−2</text>
<rect x="530.5" y="163.5" width="16" height="11" fill="#fff"/>
<text x="538.5" y="173" textLength="14" lengthAdjust="spacingAndGlyphs">−2</text>
<rect x="566.5" y="193" width="16" height="11" fill="#fff"/>
<text x="574.5" y="202.5" textLength="14" lengthAdjust="spacingAndGlyphs">−2</text>
<rect x="468.5" y="239.5" width="16" height="11" fill="#fff"/>
<text x="476.5" y="249" textLength="14" lengthAdjust="spacingAndGlyphs">−2</text>
<rect x="346.5" y="368" width="9" height="11" fill="#fff"/>
<text x="351" y="377.5" textLength="7" lengthAdjust="spacingAndGlyphs">2</text>
<rect x="405.7" y="286.8" width="9" height="11" fill="#fff"/>
<text x="410.2" y="296.3" textLength="7" lengthAdjust="spacingAndGlyphs">2</text>
<rect x="431" y="263.9" width="9" height="11" fill="#fff"/>
<text x="435.5" y="273.4" textLength="7" lengthAdjust="spacingAndGlyphs">2</text>
<rect x="455" y="273.5" width="9" height="11" fill="#fff"/>
<text x="459.5" y="283" textLength="7" lengthAdjust="spacingAndGlyphs">4</text>
<rect x="461" y="282" width="9" height="11" fill="#fff"/>
<text x="465.5" y="291.5" textLength="7" lengthAdjust="spacingAndGlyphs">6</text>
<rect x="467.8" y="290.8" width="9" height="11" fill="#fff"/>
<text x="472.3" y="300.3" textLength="7" lengthAdjust="spacingAndGlyphs">8</text>
<rect x="328" y="466.5" width="9" height="11" fill="#fff"/>
<text x="332.5" y="476" textLength="7" lengthAdjust="spacingAndGlyphs">4</text>
<rect x="631" y="451.5" width="9" height="11" fill="#fff"/>
<text x="635.5" y="461" textLength="7" lengthAdjust="spacingAndGlyphs">2</text>
<rect x="625.5" y="344.5" width="9" height="11" fill="#fff"/>
<text x="630" y="354" textLength="7" lengthAdjust="spacingAndGlyphs">4</text>
<rect x="466.3" y="391.5" width="16" height="11" fill="#fff"/>
<text x="474.3" y="401" textLength="14" lengthAdjust="spacingAndGlyphs">−2</text>
<rect x="537.6" y="397.8" width="16" height="11" fill="#fff"/>
<text x="545.6" y="407.3" textLength="14" lengthAdjust="spacingAndGlyphs">−2</text>
<rect x="428.5" y="444.5" width="16" height="11" fill="#fff"/>
<text x="436.5" y="454" textLength="14" lengthAdjust="spacingAndGlyphs">−2</text>
<rect x="492.5" y="254.5" width="9" height="11" fill="#fff"/>
<text x="497" y="264" textLength="7" lengthAdjust="spacingAndGlyphs">0</text>
<rect x="348.5" y="212.5" width="9" height="11" fill="#fff"/>
<text x="353" y="222" textLength="7" lengthAdjust="spacingAndGlyphs">0</text>
<rect x="368.9" y="286" width="9" height="11" fill="#fff"/>
<text x="373.4" y="295.5" textLength="7" lengthAdjust="spacingAndGlyphs">0</text>
<rect x="315.5" y="340" width="9" height="11" fill="#fff"/>
<text x="320" y="349.5" textLength="7" lengthAdjust="spacingAndGlyphs">0</text>
<rect x="421.5" y="407.5" width="9" height="11" fill="#fff"/>
<text x="426" y="417" textLength="7" lengthAdjust="spacingAndGlyphs">0</text>
<rect x="397.5" y="451" width="9" height="11" fill="#fff"/>
<text x="402" y="460.5" textLength="7" lengthAdjust="spacingAndGlyphs">0</text>
<rect x="451" y="462" width="9" height="11" fill="#fff"/>
<text x="455.5" y="471.5" textLength="7" lengthAdjust="spacingAndGlyphs">0</text>
<rect x="503" y="348.5" width="9" height="11" fill="#fff"/>
<text x="507.5" y="358" textLength="7" lengthAdjust="spacingAndGlyphs">0</text>
<rect x="555.9" y="478.5" width="9" height="11" fill="#fff"/>
<text x="560.4" y="488" textLength="7" lengthAdjust="spacingAndGlyphs">0</text>
<rect x="528.8" y="205" width="9" height="11" fill="#fff"/>
<text x="533.3" y="214.5" textLength="7" lengthAdjust="spacingAndGlyphs">0</text>
<rect x="575.5" y="252.5" width="9" height="11" fill="#fff"/>
<text x="580" y="262" textLength="7" lengthAdjust="spacingAndGlyphs">0</text>
<rect x="649.9" y="268.5" width="9" height="11" fill="#fff"/>
<text x="654.4" y="278" textLength="7" lengthAdjust="spacingAndGlyphs">0</text>
</g>
<rect x="16.5" y="16.5" width="872" height="667" fill="none" stroke="#000" stroke-width="1" shape-rendering="crispEdges"/>
<g shape-rendering="crispEdges" stroke="#000" stroke-width="1">
<rect x="812.5" y="101.5" width="18" height="31" fill="#ff3200"/>
<rect x="812.5" y="132.5" width="18" height="31" fill="#ff8200"/>
<rect x="812.5" y="163.5" width="18" height="31" fill="#ffc800"/>
<rect x="812.5" y="194.5" width="18" height="31" fill="#ffe600"/>
<rect x="812.5" y="225.5" width="18" height="31" fill="#ffe600"/>
<rect x="812.5" y="256.5" width="18" height="31" fill="#c8e10a"/>
<rect x="812.5" y="287.5" width="18" height="31" fill="#64e10a"/>
<rect x="812.5" y="318.5" width="18" height="31" fill="#fff"/>
<rect x="812.5" y="349.5" width="18" height="31" fill="#fff"/>
<rect x="812.5" y="380.5" width="18" height="31" fill="#00c8f0"/>
<rect x="812.5" y="411.5" width="18" height="31" fill="#006ed2"/>
<rect x="812.5" y="442.5" width="18" height="31" fill="#3200e6"/>
<rect x="812.5" y="473.5" width="18" height="31" fill="#6414e6"/>
<rect x="812.5" y="504.5" width="18" height="31" fill="#9600c8"/>
<rect x="812.5" y="535.5" width="18" height="31" fill="#b400b4"/>
<rect x="812.5" y="566.5" width="18" height="31" fill="#780078"/>
</g>
<path d="M812.5 101.5 L821.5 70.5 L830.5 101.5 Z" fill="#c80000" stroke="#000" stroke-width="1.4"/>
<path d="M812.5 597.5 L821.5 629.5 L830.5 597.5 Z" fill="#460050" stroke="#000" stroke-width="1.4"/>
<g font-family="'Liberation Sans', sans-serif" font-size="15.5">
<text x="835" y="106.7" textLength="8.5" lengthAdjust="spacingAndGlyphs">8</text>
<text x="835" y="137.7" textLength="8.5" lengthAdjust="spacingAndGlyphs">7</text>
<text x="835" y="168.7" textLength="8.5" lengthAdjust="spacingAndGlyphs">6</text>
<text x="835" y="199.7" textLength="8.5" lengthAdjust="spacingAndGlyphs">5</text>
<text x="835" y="230.7" textLength="8.5" lengthAdjust="spacingAndGlyphs">4</text>
<text x="835" y="261.7" textLength="8.5" lengthAdjust="spacingAndGlyphs">3</text>
<text x="835" y="292.7" textLength="8.5" lengthAdjust="spacingAndGlyphs">2</text>
<text x="835" y="323.7" textLength="8.5" lengthAdjust="spacingAndGlyphs">1</text>
<text x="835" y="354.7" textLength="8.5" lengthAdjust="spacingAndGlyphs">0</text>
<rect x="836" y="380" width="9" height="1" fill="#000" shape-rendering="crispEdges"/>
<text x="847.5" y="385.7" textLength="8.5" lengthAdjust="spacingAndGlyphs">1</text>
<rect x="836" y="411" width="9" height="1" fill="#000" shape-rendering="crispEdges"/>
<text x="847.5" y="416.7" textLength="8.5" lengthAdjust="spacingAndGlyphs">2</text>
<rect x="836" y="442" width="9" height="1" fill="#000" shape-rendering="crispEdges"/>
<text x="847.5" y="447.7" textLength="8.5" lengthAdjust="spacingAndGlyphs">3</text>
<rect x="836" y="473" width="9" height="1" fill="#000" shape-rendering="crispEdges"/>
<text x="847.5" y="478.7" textLength="8.5" lengthAdjust="spacingAndGlyphs">4</text>
<rect x="836" y="504" width="9" height="1" fill="#000" shape-rendering="crispEdges"/>
<text x="847.5" y="509.7" textLength="8.5" lengthAdjust="spacingAndGlyphs">5</text>
<rect x="836" y="535" width="9" height="1" fill="#000" shape-rendering="crispEdges"/>
<text x="847.5" y="540.7" textLength="8.5" lengthAdjust="spacingAndGlyphs">6</text>
<rect x="836" y="566" width="9" height="1" fill="#000" shape-rendering="crispEdges"/>
<text x="847.5" y="571.7" textLength="8.5" lengthAdjust="spacingAndGlyphs">7</text>
<rect x="836" y="597" width="9" height="1" fill="#000" shape-rendering="crispEdges"/>
<text x="847.5" y="602.7" textLength="8.5" lengthAdjust="spacingAndGlyphs">8</text>
</g>
<g font-family="'Liberation Sans', sans-serif" fill="#000">
<text x="272.3" y="633" font-size="14.8" textLength="30.2" lengthAdjust="spacingAndGlyphs" stroke="#fff" stroke-width="0.2">SEA</text>
<text x="308.8" y="633" font-size="14.8" textLength="44.8" lengthAdjust="spacingAndGlyphs" stroke="#fff" stroke-width="0.2">LEVEL</text>
<text x="361.9" y="633" font-size="14.8" textLength="80.3" lengthAdjust="spacingAndGlyphs" stroke="#fff" stroke-width="0.2">PRESSSUE</text>
<text x="453.4" y="633" font-size="14.8" textLength="34.1" lengthAdjust="spacingAndGlyphs" stroke="#fff" stroke-width="0.2">(mb)</text>
<text x="515.7" y="633" font-size="14.8" textLength="59.3" lengthAdjust="spacingAndGlyphs" stroke="#fff" stroke-width="0.2">92−DAY</text>
<text x="583.8" y="633" font-size="14.8" textLength="69.2" lengthAdjust="spacingAndGlyphs" stroke="#fff" stroke-width="0.2">ANOMALY</text>
<text x="661.2" y="633" font-size="14.8" textLength="35.6" lengthAdjust="spacingAndGlyphs" stroke="#fff" stroke-width="0.2">FOR:</text>
<text x="327.4" y="649.7" font-size="14.8" textLength="25.6" lengthAdjust="spacingAndGlyphs" stroke="#fff" stroke-width="0.2">Thu</text>
<text x="363" y="649.7" font-size="14.8" textLength="30.2" lengthAdjust="spacingAndGlyphs" stroke="#fff" stroke-width="0.2">OCT</text>
<text x="400.7" y="649.7" font-size="14.8" textLength="16.8" lengthAdjust="spacingAndGlyphs" stroke="#fff" stroke-width="0.2">01</text>
<text x="428.5" y="649.7" font-size="14.8" textLength="40" lengthAdjust="spacingAndGlyphs" stroke="#fff" stroke-width="0.2">1998</text>
<text x="478.3" y="649.7" font-size="14.8" textLength="9.5" lengthAdjust="spacingAndGlyphs" stroke="#fff" stroke-width="0.2">−</text>
<text x="499.3" y="649.7" font-size="14.8" textLength="25.4" lengthAdjust="spacingAndGlyphs" stroke="#fff" stroke-width="0.2">Thu</text>
<text x="535.4" y="649.7" font-size="14.8" textLength="30" lengthAdjust="spacingAndGlyphs" stroke="#fff" stroke-width="0.2">DEC</text>
<text x="575.6" y="649.7" font-size="14.8" textLength="16.9" lengthAdjust="spacingAndGlyphs" stroke="#fff" stroke-width="0.2">31</text>
<text x="602.5" y="649.7" font-size="14.8" textLength="37.8" lengthAdjust="spacingAndGlyphs" stroke="#fff" stroke-width="0.2">1998</text>
<text x="374.9" y="674.3" font-size="14.8" textLength="39.9" lengthAdjust="spacingAndGlyphs" stroke="#fff" stroke-width="0.2">NCEP</text>
<text x="423.7" y="674.3" font-size="14.8" textLength="98.3" lengthAdjust="spacingAndGlyphs" stroke="#fff" stroke-width="0.2">OPERATIONAL</text>
<text x="534.4" y="674.3" font-size="14.8" textLength="59.9" lengthAdjust="spacingAndGlyphs" stroke="#fff" stroke-width="0.2">DATASET</text>
<text x="632" y="695.5" font-size="12" textLength="134.6" lengthAdjust="spacingAndGlyphs" stroke="#fff" stroke-width="0.2">NOAA−CIRES/Climate</text>
<text x="776.7" y="695.5" font-size="12" textLength="68.5" lengthAdjust="spacingAndGlyphs" stroke="#fff" stroke-width="0.2">Diagnostics</text>
<text x="855.3" y="695.5" font-size="12" textLength="40.7" lengthAdjust="spacingAndGlyphs" stroke="#fff" stroke-width="0.2">Center</text>
</g>
</svg>
</body></html>
